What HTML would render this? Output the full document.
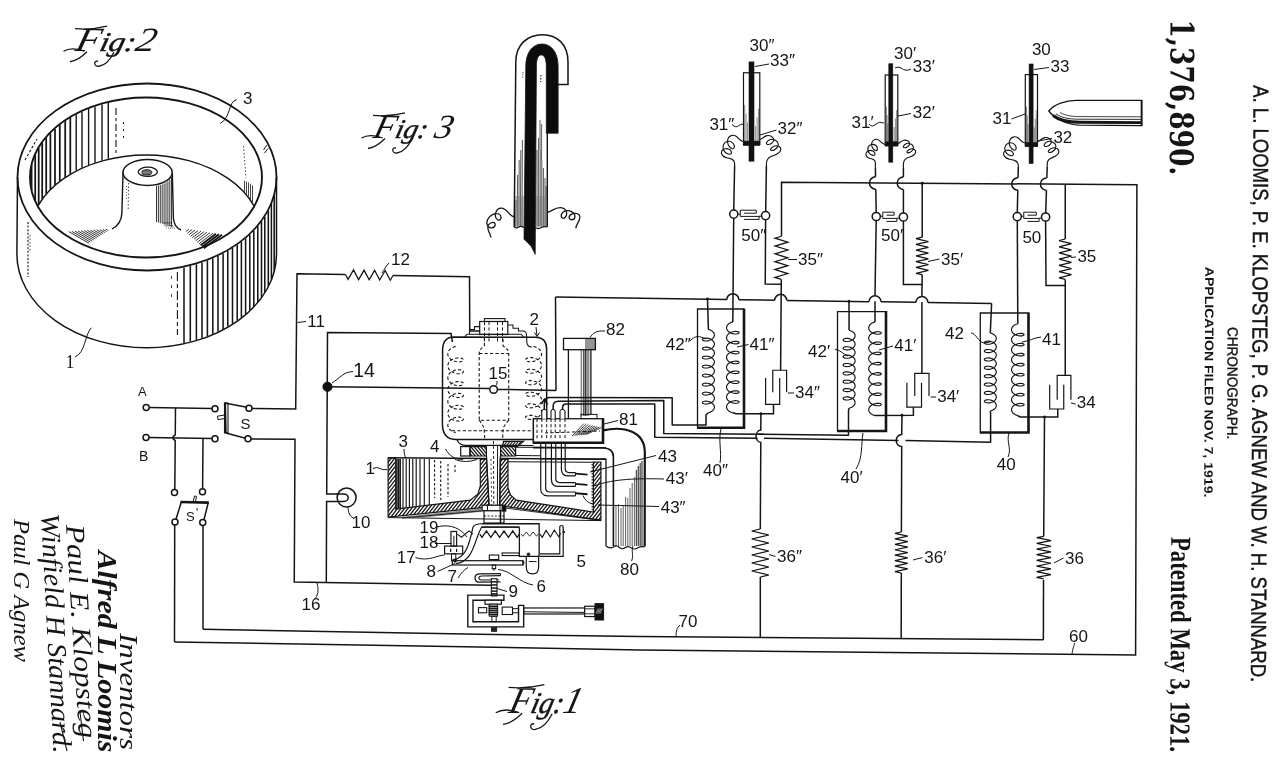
<!DOCTYPE html>
<html><head><meta charset="utf-8"><title>Patent 1,376,890 Chronograph</title>
<style>
html,body{margin:0;padding:0;background:#fff;}
body{width:1280px;height:774px;overflow:hidden;}
svg{display:block;will-change:transform;}
svg *{stroke:#151515;}
text{stroke:none;fill:#151515;}
tspan{stroke:#151515;stroke-width:0.5;}
.lb{font-family:"Liberation Sans",sans-serif;}
.sf{font-family:"Liberation Serif",serif;}
.dj{font-family:"DejaVu Serif","Liberation Serif",serif;}
</style></head><body>
<svg width="1280" height="774" viewBox="0 0 1280 774" fill="none" stroke-linecap="butt">
<rect x="0" y="0" width="1280" height="774" fill="#fff" stroke="none" style="stroke:none"/>
<line x1="149" y1="407.5" x2="212" y2="408.4" stroke-width="1.5" />
<line x1="149" y1="437.5" x2="212" y2="438.5" stroke-width="1.5" />
<line x1="175.5" y1="407.7" x2="175.26" y2="435.6" stroke-width="1.5" />
<path d="M175.24 435.6 A2.2 2.2 0 0 0 175.24 440" stroke-width="1.5" fill="none" />
<line x1="175.22" y1="440" x2="174.8" y2="489.5" stroke-width="1.5" />
<line x1="203" y1="438.3" x2="202.6" y2="488.7" stroke-width="1.5" />
<circle cx="146.2" cy="407.5" r="3" stroke-width="1.5" fill="#fff"/>
<circle cx="146" cy="437.5" r="3" stroke-width="1.5" fill="#fff"/>
<circle cx="215" cy="408.75" r="3" stroke-width="1.5" fill="#fff"/>
<circle cx="215" cy="438.75" r="3" stroke-width="1.5" fill="#fff"/>
<circle cx="174.5" cy="492.5" r="3" stroke-width="1.5" fill="#fff"/>
<circle cx="202.5" cy="491.75" r="3" stroke-width="1.5" fill="#fff"/>
<circle cx="175" cy="522" r="3" stroke-width="1.5" fill="#fff"/>
<circle cx="202.75" cy="522.5" r="3" stroke-width="1.5" fill="#fff"/>
<circle cx="249" cy="408.25" r="3" stroke-width="1.5" fill="#fff"/>
<circle cx="248" cy="438.75" r="3" stroke-width="1.5" fill="#fff"/>
<text class="lb" x="138" y="396" font-size="13" text-anchor="start" >A</text>
<text class="lb" x="139" y="461" font-size="14" text-anchor="start" >B</text>
<line x1="180.5" y1="502" x2="208.8" y2="502.6" stroke-width="2.6" />
<line x1="181.3" y1="502" x2="176" y2="519.3" stroke-width="1.5" />
<line x1="208.3" y1="502.5" x2="204" y2="519.6" stroke-width="1.5" />
<path d="M193.3 501 L194.5 496 L196.5 496.3 L195.6 501" stroke-width="1.0" fill="none" />
<text class="lb" x="186" y="521" font-size="13" text-anchor="start" >S</text>
<text class="lb" x="196" y="516.5" font-size="12" text-anchor="start" >'</text>
<line x1="174.7" y1="525" x2="174.5" y2="642" stroke-width="1.5" />
<line x1="203" y1="525.5" x2="203" y2="629.25" stroke-width="1.5" />
<rect x="224.5" y="403" width="3.5" height="30" stroke-width="1.1" fill="none" />
<line x1="225" y1="403" x2="225.6" y2="433" stroke-width="2.2" />
<line x1="224.5" y1="403" x2="247" y2="407.2" stroke-width="1.5" />
<line x1="226" y1="433" x2="245.5" y2="438.2" stroke-width="1.5" />
<path d="M224.5 415 L217.5 416.2 L218 419.6 L224.5 418.6" stroke-width="1.0" fill="none" />
<text class="lb" x="240.5" y="429" font-size="15" text-anchor="start" >S</text>
<path d="M252 408.5 L295.7 409 L297 273.75 L345.5 274.5" stroke-width="1.5" fill="none" />
<path d="M345.5 274.5 L348.04 279.35 L353.52 269.87 L358.59 279.58 L364.07 270.09 L369.15 279.8 L374.63 270.31 L379.7 280.02 L385.18 270.53 L390.26 280.24 L393 275.5" stroke-width="1.27" fill="none" stroke-linejoin="miter"/>
<path d="M393 275.5 L469.5 276.75 L469.75 331 L480 331" stroke-width="1.5" fill="none" />
<path d="M251 438.9 L295 439.3 L294.25 582 L491 585.2" stroke-width="1.5" fill="none" />
<path d="M326.3 582.6 L326.6 501.4 L344 501.4" stroke-width="1.5" fill="none" />
<path d="M344 493.9 L326.7 493.9 L327.5 332.5 L451 333.6 L452.5 342" stroke-width="1.5" fill="none" />
<circle cx="327.5" cy="386.75" r="4.6" stroke-width="1.0" fill="#111"/>
<line x1="327.5" y1="386.75" x2="489.8" y2="388.6" stroke-width="1.5" />
<line x1="497.3" y1="389.4" x2="556" y2="390.4" stroke-width="1.5" />
<line x1="556" y1="390.4" x2="555.5" y2="297" stroke-width="1.5" />
<line x1="555.5" y1="297" x2="726.8" y2="299.55" stroke-width="1.5" />
<path d="M726.8 299.64 A6 6 0 0 1 738.8 299.64" stroke-width="1.5" fill="none" />
<line x1="738.8" y1="299.73" x2="774.7" y2="300.27" stroke-width="1.5" />
<path d="M774.7 300.36 A6 6 0 0 1 786.7 300.36" stroke-width="1.5" fill="none" />
<line x1="786.7" y1="300.45" x2="869" y2="301.67" stroke-width="1.5" />
<path d="M869 301.76 A6 6 0 0 1 881 301.76" stroke-width="1.5" fill="none" />
<line x1="881" y1="301.85" x2="915.9" y2="302.37" stroke-width="1.5" />
<path d="M915.9 302.46 A6 6 0 0 1 927.9 302.46" stroke-width="1.5" fill="none" />
<line x1="927.9" y1="302.55" x2="991.6" y2="303.5" stroke-width="1.5" />
<line x1="991.6" y1="303.5" x2="990.3" y2="333" stroke-width="1.5" />
<circle cx="346.6" cy="497.6" r="9.5" stroke-width="1.5" fill="none"/>
<path d="M344 493.9 A4.2 3.75 0 1 1 344 501.4" stroke-width="1.5" fill="none" />
<path d="M781.5 236.25 L781.5 182.25 L1136.9 184.7 L1135.6 654.9 L640 650 L479 647 L174.5 642" stroke-width="1.5" fill="none" />
<path d="M203 629.25 L479 634.25 L640 636.6 L1043.4 639.8" stroke-width="1.5" fill="none" />
<rect x="743.5" y="72.75" width="16.3" height="71.85" stroke-width="1.2" fill="#fff" />
<line x1="744.7" y1="105.08" x2="744.7" y2="144.6" stroke-width="0.7" stroke-opacity="0.7"/>
<line x1="758.6" y1="108.67" x2="758.6" y2="144.6" stroke-width="0.7" stroke-opacity="0.7"/>
<line x1="746.07" y1="113.7" x2="746.07" y2="144.6" stroke-width="0.7" stroke-opacity="0.7"/>
<line x1="757.13" y1="117.3" x2="757.13" y2="144.6" stroke-width="0.7" stroke-opacity="0.7"/>
<line x1="747.43" y1="122.33" x2="747.43" y2="144.6" stroke-width="0.7" stroke-opacity="0.7"/>
<line x1="755.67" y1="125.92" x2="755.67" y2="144.6" stroke-width="0.7" stroke-opacity="0.7"/>
<rect x="743.5" y="141.1" width="16.3" height="4.3" stroke-width="0.6" fill="#111" />
<rect x="749" y="61.9" width="5" height="99.3" stroke-width="0.6" fill="#111" />
<path d="M743.5 141.5 C740.59 141.5 738.65 138.27 736.07 136.33 C732.84 134.07 728.96 135.68 727.67 139.56 C726.7 143.12 728.96 147.64 731.87 148.61 C734.45 149.25 735.1 146.35 733.48 143.76 C731.87 141.5 728.96 140.85 726.38 141.82 C723.14 143.12 722.18 146.99 723.79 150.22 C725.08 153.13 728.96 155.07 730.9 153.78 C732.51 152.49 730.9 150.22 728.96 149.25 C726.38 147.96 723.14 148.61 721.83 150.87 C720.51 153.45 722.42 156.69 726.27 157.66 C730.77 158.62 734.3 159.27 734.6 163.15 L734.6 166" stroke-width="1.15" fill="none" stroke-linejoin="round"/>
<path d="M759.8 139.5 C762.38 139.18 763.68 136.27 766.91 135.62 C770.14 134.98 773.69 136.92 773.69 139.82 C773.69 142.73 769.49 144.99 767.23 144.35 C765.29 143.7 766.91 140.79 770.14 139.5 C773.69 138.53 777.89 140.79 778.22 144.02 C778.54 147.25 774.66 150.49 771.75 150.49 C769.17 150.16 771.11 147.25 774.66 145.96 C778.54 144.99 781.12 147.25 780.78 149.84 C780.1 153.72 774.58 155.01 771.33 156.3 C767.42 157.92 766.43 160.18 766.4 164.06 L766.4 166" stroke-width="1.15" fill="none" stroke-linejoin="round"/>
<rect x="885.2" y="75" width="12.6" height="70.3" stroke-width="1.2" fill="#fff" />
<line x1="886.4" y1="106.64" x2="886.4" y2="145.3" stroke-width="0.7" stroke-opacity="0.7"/>
<line x1="896.6" y1="110.15" x2="896.6" y2="145.3" stroke-width="0.7" stroke-opacity="0.7"/>
<line x1="887.13" y1="115.07" x2="887.13" y2="145.3" stroke-width="0.7" stroke-opacity="0.7"/>
<line x1="895.4" y1="118.59" x2="895.4" y2="145.3" stroke-width="0.7" stroke-opacity="0.7"/>
<line x1="887.87" y1="123.51" x2="887.87" y2="145.3" stroke-width="0.7" stroke-opacity="0.7"/>
<line x1="894.2" y1="127.02" x2="894.2" y2="145.3" stroke-width="0.7" stroke-opacity="0.7"/>
<rect x="885.2" y="141.8" width="12.6" height="4.3" stroke-width="0.6" fill="#111" />
<rect x="888.8" y="63.75" width="4" height="98.45" stroke-width="0.6" fill="#111" />
<path d="M885.2 144.5 C882.73 144.5 881.08 141.75 878.88 140.11 C876.14 138.18 872.84 139.56 871.74 142.85 C870.92 145.87 872.84 149.72 875.31 150.54 C877.51 151.09 878.06 148.62 876.69 146.42 C875.31 144.5 872.84 143.95 870.64 144.77 C867.9 145.87 867.07 149.17 868.45 151.92 C869.55 154.39 872.84 156.03 874.49 154.94 C875.86 153.84 874.49 151.92 872.84 151.09 C870.64 149.99 867.9 150.54 866.46 152.46 C865.02 154.66 866.33 157.41 869.28 158.23 C872.79 159.06 875.47 159.61 875.4 162.9 L875.4 168" stroke-width="1.15" fill="none" stroke-linejoin="round"/>
<path d="M897.8 143.5 C900 143.23 901.1 140.75 903.84 140.2 C906.59 139.66 909.61 141.3 909.61 143.77 C909.61 146.25 906.04 148.17 904.12 147.62 C902.47 147.07 903.84 144.6 906.59 143.5 C909.61 142.68 913.18 144.6 913.45 147.34 C913.73 150.09 910.43 152.84 907.96 152.84 C905.76 152.56 907.41 150.09 910.43 148.99 C913.73 148.17 915.93 150.09 915.63 152.29 C915.05 155.58 910.36 156.68 907.59 157.78 C904.27 159.15 903.42 161.08 903.4 164.37 L903.4 168" stroke-width="1.15" fill="none" stroke-linejoin="round"/>
<rect x="1025.3" y="74.6" width="12.2" height="71.3" stroke-width="1.2" fill="#fff" />
<line x1="1026.5" y1="106.69" x2="1026.5" y2="145.9" stroke-width="0.7" stroke-opacity="0.7"/>
<line x1="1036.3" y1="110.25" x2="1036.3" y2="145.9" stroke-width="0.7" stroke-opacity="0.7"/>
<line x1="1027.3" y1="115.24" x2="1027.3" y2="145.9" stroke-width="0.7" stroke-opacity="0.7"/>
<line x1="1035.3" y1="118.81" x2="1035.3" y2="145.9" stroke-width="0.7" stroke-opacity="0.7"/>
<line x1="1028.1" y1="123.8" x2="1028.1" y2="145.9" stroke-width="0.7" stroke-opacity="0.7"/>
<line x1="1034.3" y1="127.36" x2="1034.3" y2="145.9" stroke-width="0.7" stroke-opacity="0.7"/>
<rect x="1025.3" y="142.4" width="12.2" height="4.3" stroke-width="0.6" fill="#111" />
<rect x="1029.1" y="64" width="4" height="99.5" stroke-width="0.6" fill="#111" />
<path d="M1025.3 143 C1022.39 143 1020.45 139.77 1017.87 137.83 C1014.64 135.57 1010.76 137.18 1009.47 141.06 C1008.5 144.62 1010.76 149.14 1013.67 150.11 C1016.25 150.75 1016.9 147.85 1015.28 145.26 C1013.67 143 1010.76 142.35 1008.18 143.32 C1004.94 144.62 1003.98 148.49 1005.59 151.72 C1006.88 154.63 1010.76 156.57 1012.7 155.28 C1014.31 153.99 1012.7 151.72 1010.76 150.75 C1008.18 149.46 1004.94 150.11 1003.9 152.37 C1002.85 154.95 1005.04 158.19 1009.16 159.16 C1013.93 160.12 1017.73 160.77 1018.3 164.65 L1018.3 167" stroke-width="1.15" fill="none" stroke-linejoin="round"/>
<path d="M1037.5 141.5 C1040.08 141.18 1041.38 138.27 1044.61 137.62 C1047.84 136.98 1051.39 138.92 1051.39 141.82 C1051.39 144.73 1047.19 146.99 1044.93 146.35 C1042.99 145.7 1044.61 142.79 1047.84 141.5 C1051.39 140.53 1055.59 142.79 1055.92 146.02 C1056.24 149.25 1052.36 152.49 1049.45 152.49 C1046.87 152.16 1048.81 149.25 1052.36 147.96 C1056.24 146.99 1058.82 149.25 1058.92 151.84 C1058.69 155.72 1053.61 157.01 1050.8 158.3 C1047.34 159.92 1046.78 162.18 1047.2 166.06 L1047.2 167" stroke-width="1.15" fill="none" stroke-linejoin="round"/>
<line x1="734.6" y1="166" x2="733.75" y2="210" stroke-width="1.5" />
<line x1="733.7" y1="218.2" x2="732.8" y2="321.9" stroke-width="1.5" />
<line x1="766.4" y1="166" x2="765.7" y2="211.5" stroke-width="1.5" />
<path d="M765.6 219.7 L765.25 284 L781 284.2" stroke-width="1.5" fill="none" />
<circle cx="733.75" cy="214.1" r="4.1" stroke-width="1.5" fill="#fff"/>
<circle cx="765.6" cy="215.6" r="4.1" stroke-width="1.5" fill="#fff"/>
<path d="M781.5 236.25 L775.09 238.18 L787.87 242.16 L775.05 246.03 L787.84 250.01 L775.02 253.87 L787.8 257.85 L774.98 261.72 L787.76 265.7 L774.95 269.56 L787.73 273.55 L774.91 277.41 L781.3 279.4" stroke-width="1.27" fill="none" stroke-linejoin="miter"/>
<line x1="781.3" y1="279.4" x2="780.6" y2="370.25" stroke-width="1.5" />
<line x1="875.4" y1="168" x2="875.56" y2="176.8" stroke-width="1.5" />
<path d="M875.67 176.8 A6.2 6.2 0 0 0 875.67 189.2" stroke-width="1.5" fill="none" />
<line x1="875.78" y1="189.2" x2="876.2" y2="212.4" stroke-width="1.5" />
<line x1="876.2" y1="220.6" x2="875" y2="295.5" stroke-width="1.5" />
<line x1="875" y1="301.3" x2="875" y2="321.9" stroke-width="1.5" />
<line x1="903.4" y1="168" x2="903.4" y2="177" stroke-width="1.5" />
<path d="M903.4 177 A6.2 6.2 0 0 0 903.4 189.4" stroke-width="1.5" fill="none" />
<line x1="903.4" y1="189.4" x2="903.4" y2="212.9" stroke-width="1.5" />
<path d="M903.4 221.1 L903.4 284.6 L922.2 284.6" stroke-width="1.5" fill="none" />
<circle cx="876.25" cy="216.5" r="4.1" stroke-width="1.5" fill="#fff"/>
<circle cx="903.4" cy="217" r="4.1" stroke-width="1.5" fill="#fff"/>
<line x1="922.2" y1="183.2" x2="922.2" y2="237.2" stroke-width="1.5" />
<circle cx="922.2" cy="183.3" r="1.3" stroke-width="0.5" fill="#111"/>
<path d="M922.2 237.2 L916 238.64 L928.4 241.53 L916 244.41 L928.4 247.3 L916 250.18 L928.4 253.07 L916 255.95 L928.4 258.83 L916 261.72 L928.4 264.6 L916 267.49 L928.4 270.37 L916 273.26 L922.2 274.7" stroke-width="1.27" fill="none" stroke-linejoin="miter"/>
<line x1="922.2" y1="274.7" x2="921.9" y2="296.3" stroke-width="1.5" />
<line x1="921.9" y1="301.9" x2="921.9" y2="373.4" stroke-width="1.5" />
<line x1="1018.3" y1="167" x2="1018.06" y2="177.8" stroke-width="1.5" />
<path d="M1017.93 177.8 A6.2 6.2 0 0 0 1017.93 190.2" stroke-width="1.5" fill="none" />
<line x1="1017.79" y1="190.2" x2="1017.3" y2="212.5" stroke-width="1.5" />
<line x1="1017.3" y1="220.7" x2="1017.8" y2="323.75" stroke-width="1.5" />
<line x1="1047.2" y1="167" x2="1046.84" y2="178" stroke-width="1.5" />
<path d="M1046.64 178 A6.2 6.2 0 0 0 1046.64 190.4" stroke-width="1.5" fill="none" />
<line x1="1046.44" y1="190.4" x2="1045.7" y2="212.9" stroke-width="1.5" />
<path d="M1045.6 221.1 L1046 285.4 L1065.25 285.4" stroke-width="1.5" fill="none" />
<circle cx="1017.25" cy="216.6" r="4.1" stroke-width="1.5" fill="#fff"/>
<circle cx="1045.6" cy="217" r="4.1" stroke-width="1.5" fill="#fff"/>
<line x1="1065.25" y1="184.3" x2="1065.25" y2="239" stroke-width="1.5" />
<path d="M1065.25 239 L1059.05 240.55 L1071.45 243.66 L1059.05 246.77 L1071.45 249.88 L1059.05 252.98 L1071.45 256.09 L1059.05 259.2 L1071.45 262.31 L1059.05 265.42 L1071.45 268.52 L1059.05 271.63 L1071.45 274.74 L1059.05 277.85 L1065.25 279.4" stroke-width="1.27" fill="none" stroke-linejoin="miter"/>
<line x1="1065.25" y1="279.4" x2="1065.25" y2="375.3" stroke-width="1.5" />
<path d="M738.05 214.2 L740.25 214.2 L740.25 210.2 L756.3 210.2 L756.3 213.2 L744.05 213.2" stroke-width="1.0" fill="none" />
<path d="M740.25 214.2 L740.25 216.4 L759.1 216.4" stroke-width="1.0" fill="none" />
<path d="M761.3 216.2 L759.1 216.2 L759.1 219.4 L744.05 219.4" stroke-width="1.0" fill="none" />
<path d="M880.55 216.2 L882.75 216.2 L882.75 212.2 L894.1 212.2 L894.1 215.2 L886.55 215.2" stroke-width="1.0" fill="none" />
<path d="M882.75 216.2 L882.75 218.4 L896.9 218.4" stroke-width="1.0" fill="none" />
<path d="M899.1 218.2 L896.9 218.2 L896.9 221.4 L886.55 221.4" stroke-width="1.0" fill="none" />
<path d="M1021.55 216.2 L1023.75 216.2 L1023.75 212.2 L1036.3 212.2 L1036.3 215.2 L1027.55 215.2" stroke-width="1.0" fill="none" />
<path d="M1023.75 216.2 L1023.75 218.4 L1039.1 218.4" stroke-width="1.0" fill="none" />
<path d="M1041.3 218.2 L1039.1 218.2 L1039.1 221.4 L1027.55 221.4" stroke-width="1.0" fill="none" />
<path d="M744 309 L697.5 309 L697.5 427.8" stroke-width="1.3" fill="none" />
<path d="M744 308.5 L744 427.8 L697 427.8" stroke-width="2.6" fill="none" />
<path d="M708.4 329.4 L709.74 329.81 L711 330.38 L712.14 331.11 L713.09 331.97 L713.81 332.93 L714.25 333.97 L714.4 335.05 L714.25 336.13 L713.81 337.17 L713.09 338.14 L712.14 339 L711 339.73 L709.74 340.3 L708.4 340.71 L707.06 340.94 L705.8 341.01 L704.66 340.93 L703.71 340.71 L702.99 340.39 L702.55 339.99 L702.4 339.56 L702.55 339.12 L702.99 338.73 L703.71 338.4 L704.66 338.19 L705.8 338.1 L707.06 338.18 L708.4 338.41 L709.74 338.82 L711 339.39 L712.14 340.12 L713.09 340.98 L713.81 341.95 L714.25 342.99 L714.4 344.06 L714.25 345.14 L713.81 346.18 L713.09 347.15 L712.14 348.01 L711 348.74 L709.74 349.31 L708.4 349.72 L707.06 349.95 L705.8 350.02 L704.66 349.94 L703.71 349.72 L702.99 349.4 L702.55 349.01 L702.4 348.57 L702.55 348.14 L702.99 347.74 L703.71 347.42 L704.66 347.2 L705.8 347.12 L707.06 347.19 L708.4 347.42 L709.74 347.83 L711 348.4 L712.14 349.13 L713.09 349.99 L713.81 350.96 L714.25 352 L714.4 353.08 L714.25 354.15 L713.81 355.2 L713.09 356.16 L712.14 357.02 L711 357.75 L709.74 358.32 L708.4 358.73 L707.06 358.97 L705.8 359.04 L704.66 358.95 L703.71 358.74 L702.99 358.41 L702.55 358.02 L702.4 357.58 L702.55 357.15 L702.99 356.75 L703.71 356.43 L704.66 356.21 L705.8 356.13 L707.06 356.2 L708.4 356.44 L709.74 356.84 L711 357.42 L712.14 358.14 L713.09 359 L713.81 359.97 L714.25 361.01 L714.4 362.09 L714.25 363.17 L713.81 364.21 L713.09 365.17 L712.14 366.03 L711 366.76 L709.74 367.33 L708.4 367.74 L707.06 367.98 L705.8 368.05 L704.66 367.96 L703.71 367.75 L702.99 367.43 L702.55 367.03 L702.4 366.59 L702.55 366.16 L702.99 365.76 L703.71 365.44 L704.66 365.22 L705.8 365.14 L707.06 365.21 L708.4 365.45 L709.74 365.85 L711 366.43 L712.14 367.15 L713.09 368.01 L713.81 368.98 L714.25 370.02 L714.4 371.1 L714.25 372.18 L713.81 373.22 L713.09 374.19 L712.14 375.05 L711 375.77 L709.74 376.35 L708.4 376.75 L707.06 376.99 L705.8 377.06 L704.66 376.98 L703.71 376.76 L702.99 376.44 L702.55 376.04 L702.4 375.61 L702.55 375.17 L702.99 374.77 L703.71 374.45 L704.66 374.24 L705.8 374.15 L707.06 374.22 L708.4 374.46 L709.74 374.87 L711 375.44 L712.14 376.17 L713.09 377.03 L713.81 377.99 L714.25 379.03 L714.4 380.11 L714.25 381.19 L713.81 382.23 L713.09 383.2 L712.14 384.06 L711 384.78 L709.74 385.36 L708.4 385.76 L707.06 386 L705.8 386.07 L704.66 385.99 L703.71 385.77 L702.99 385.45 L702.55 385.05 L702.4 384.62 L702.55 384.18 L702.99 383.79 L703.71 383.46 L704.66 383.25 L705.8 383.16 L707.06 383.23 L708.4 383.47 L709.74 383.88 L711 384.45 L712.14 385.18 L713.09 386.04 L713.81 387 L714.25 388.05 L714.4 389.12 L714.25 390.2 L713.81 391.24 L713.09 392.21 L712.14 393.07 L711 393.8 L709.74 394.37 L708.4 394.78 L707.06 395.01 L705.8 395.08 L704.66 395 L703.71 394.78 L702.99 394.46 L702.55 394.06 L702.4 393.63 L702.55 393.19 L702.99 392.8 L703.71 392.48 L704.66 392.26 L705.8 392.18 L707.06 392.25 L708.4 392.48 L709.74 392.89 L711 393.46 L712.14 394.19 L713.09 395.05 L713.81 396.02 L714.25 397.06 L714.4 398.14 L714.25 399.21 L713.81 400.25 L713.09 401.22 L712.14 402.08 L711 402.81 L709.74 403.38 L708.4 403.79 L707.06 404.02 L705.8 404.1 L704.66 404.01 L703.71 403.8 L702.99 403.47 L702.55 403.08 L702.4 402.64 L702.55 402.21 L702.99 401.81 L703.71 401.49 L704.66 401.27 L705.8 401.19 L707.06 401.26 L708.4 401.49 L709.74 401.9 L711 402.47 L712.14 403.2 L713.09 404.06 L713.81 405.03 L714.25 406.07 L714.4 407.15 L714.25 408.23 L713.81 409.27 L713.09 410.23 L712.14 411.09 L711 411.82 L709.74 412.39 L708.4 412.8" stroke-width="1.15" fill="none" stroke-linejoin="round"/>
<path d="M732.8 321.9 L731.4 322.34 L730.07 322.94 L728.87 323.7 L727.87 324.59 L727.12 325.59 L726.66 326.66 L726.5 327.77 L726.66 328.88 L727.12 329.96 L727.87 330.95 L728.87 331.85 L730.07 332.6 L731.4 333.21 L732.8 333.65 L734.2 333.92 L735.53 334.02 L736.73 333.97 L737.73 333.78 L738.48 333.49 L738.94 333.12 L739.1 332.72 L738.94 332.32 L738.48 331.95 L737.73 331.66 L736.73 331.48 L735.53 331.42 L734.2 331.53 L732.8 331.79 L731.4 332.23 L730.07 332.84 L728.87 333.6 L727.87 334.49 L727.12 335.49 L726.66 336.56 L726.5 337.67 L726.66 338.78 L727.12 339.85 L727.87 340.85 L728.87 341.74 L730.07 342.5 L731.4 343.1 L732.8 343.54 L734.2 343.81 L735.53 343.91 L736.73 343.86 L737.73 343.67 L738.48 343.38 L738.94 343.02 L739.1 342.61 L738.94 342.21 L738.48 341.85 L737.73 341.55 L736.73 341.37 L735.53 341.32 L734.2 341.42 L732.8 341.69 L731.4 342.13 L730.07 342.73 L728.87 343.49 L727.87 344.38 L727.12 345.38 L726.66 346.45 L726.5 347.56 L726.66 348.67 L727.12 349.74 L727.87 350.74 L728.87 351.63 L730.07 352.39 L731.4 353 L732.8 353.44 L734.2 353.7 L735.53 353.81 L736.73 353.75 L737.73 353.57 L738.48 353.28 L738.94 352.91 L739.1 352.51 L738.94 352.11 L738.48 351.74 L737.73 351.45 L736.73 351.26 L735.53 351.21 L734.2 351.31 L732.8 351.58 L731.4 352.02 L730.07 352.63 L728.87 353.38 L727.87 354.28 L727.12 355.27 L726.66 356.35 L726.5 357.46 L726.66 358.57 L727.12 359.64 L727.87 360.64 L728.87 361.53 L730.07 362.29 L731.4 362.89 L732.8 363.33 L734.2 363.6 L735.53 363.7 L736.73 363.65 L737.73 363.46 L738.48 363.17 L738.94 362.81 L739.1 362.4 L738.94 362 L738.48 361.63 L737.73 361.34 L736.73 361.16 L735.53 361.11 L734.2 361.21 L732.8 361.48 L731.4 361.92 L730.07 362.52 L728.87 363.28 L727.87 364.17 L727.12 365.17 L726.66 366.24 L726.5 367.35 L726.66 368.46 L727.12 369.53 L727.87 370.53 L728.87 371.42 L730.07 372.18 L731.4 372.78 L732.8 373.22 L734.2 373.49 L735.53 373.59 L736.73 373.54 L737.73 373.36 L738.48 373.07 L738.94 372.7 L739.1 372.3 L738.94 371.89 L738.48 371.53 L737.73 371.24 L736.73 371.05 L735.53 371 L734.2 371.1 L732.8 371.37 L731.4 371.81 L730.07 372.41 L728.87 373.17 L727.87 374.06 L727.12 375.06 L726.66 376.13 L726.5 377.24 L726.66 378.35 L727.12 379.43 L727.87 380.42 L728.87 381.32 L730.07 382.07 L731.4 382.68 L732.8 383.12 L734.2 383.39 L735.53 383.49 L736.73 383.44 L737.73 383.25 L738.48 382.96 L738.94 382.59 L739.1 382.19 L738.94 381.79 L738.48 381.42 L737.73 381.13 L736.73 380.95 L735.53 380.89 L734.2 381 L732.8 381.26 L731.4 381.7 L730.07 382.31 L728.87 383.07 L727.87 383.96 L727.12 384.96 L726.66 386.03 L726.5 387.14 L726.66 388.25 L727.12 389.32 L727.87 390.32 L728.87 391.21 L730.07 391.97 L731.4 392.57 L732.8 393.01 L734.2 393.28 L735.53 393.38 L736.73 393.33 L737.73 393.15 L738.48 392.85 L738.94 392.49 L739.1 392.09 L738.94 391.68 L738.48 391.32 L737.73 391.03 L736.73 390.84 L735.53 390.79 L734.2 390.89 L732.8 391.16 L731.4 391.6 L730.07 392.2 L728.87 392.96 L727.87 393.85 L727.12 394.85 L726.66 395.92 L726.5 397.03 L726.66 398.14 L727.12 399.21 L727.87 400.21 L728.87 401.1 L730.07 401.86 L731.4 402.47 L732.8 402.91 L734.2 403.17 L735.53 403.28 L736.73 403.22 L737.73 403.04 L738.48 402.75 L738.94 402.38 L739.1 401.98 L738.94 401.58 L738.48 401.21 L737.73 400.92 L736.73 400.73 L735.53 400.68 L734.2 400.78 L732.8 401.05 L731.4 401.49 L730.07 402.1 L728.87 402.85 L727.87 403.75 L727.12 404.74 L726.66 405.82 L726.5 406.93 L726.66 408.04 L727.12 409.11 L727.87 410.11 L728.87 411 L730.07 411.76 L731.4 412.36 L732.8 412.8" stroke-width="1.15" fill="none" stroke-linejoin="round"/>
<line x1="707.5" y1="298.9" x2="708.4" y2="329.4" stroke-width="1.5" />
<circle cx="707.5" cy="299" r="1.2" stroke-width="0.5" fill="#111"/>
<path d="M765.6 378 L765.6 404.4 L779.7 404.4 L779.7 378" stroke-width="1.2" fill="none" />
<path d="M772.75 392.2 L772.75 370.25 L786.6 370.25 L786.6 392.2" stroke-width="1.2" fill="none" />
<path d="M732.8 412.8 L736 413.75 L773.5 413.75 L773.5 404.4" stroke-width="1.5" fill="none" />
<path d="M886 311.6 L837.5 311.6 L837.5 431" stroke-width="1.3" fill="none" />
<path d="M886 311.1 L886 431 L837 431" stroke-width="2.6" fill="none" />
<path d="M849.1 330.3 L850.44 330.68 L851.7 331.23 L852.84 331.94 L853.79 332.77 L854.51 333.72 L854.95 334.73 L855.1 335.79 L854.95 336.84 L854.51 337.86 L853.79 338.8 L852.84 339.64 L851.7 340.34 L850.44 340.89 L849.1 341.28 L847.76 341.49 L846.5 341.54 L845.36 341.43 L844.41 341.19 L843.69 340.84 L843.25 340.42 L843.1 339.96 L843.25 339.51 L843.69 339.09 L844.41 338.74 L845.36 338.5 L846.5 338.39 L847.76 338.44 L849.1 338.65 L850.44 339.04 L851.7 339.59 L852.84 340.29 L853.79 341.13 L854.51 342.07 L854.95 343.09 L855.1 344.14 L854.95 345.2 L854.51 346.21 L853.79 347.16 L852.84 347.99 L851.7 348.7 L850.44 349.25 L849.1 349.63 L847.76 349.84 L846.5 349.89 L845.36 349.78 L844.41 349.54 L843.69 349.2 L843.25 348.78 L843.1 348.32 L843.25 347.86 L843.69 347.44 L844.41 347.09 L845.36 346.85 L846.5 346.75 L847.76 346.79 L849.1 347.01 L850.44 347.39 L851.7 347.94 L852.84 348.64 L853.79 349.48 L854.51 350.42 L854.95 351.44 L855.1 352.49 L854.95 353.55 L854.51 354.57 L853.79 355.51 L852.84 356.35 L851.7 357.05 L850.44 357.6 L849.1 357.98 L847.76 358.2 L846.5 358.24 L845.36 358.14 L844.41 357.9 L843.69 357.55 L843.25 357.13 L843.1 356.67 L843.25 356.21 L843.69 355.79 L844.41 355.45 L845.36 355.21 L846.5 355.1 L847.76 355.15 L849.1 355.36 L850.44 355.74 L851.7 356.29 L852.84 357 L853.79 357.83 L854.51 358.78 L854.95 359.79 L855.1 360.85 L854.95 361.9 L854.51 362.92 L853.79 363.86 L852.84 364.7 L851.7 365.4 L850.44 365.95 L849.1 366.34 L847.76 366.55 L846.5 366.6 L845.36 366.49 L844.41 366.25 L843.69 365.9 L843.25 365.48 L843.1 365.02 L843.25 364.57 L843.69 364.14 L844.41 363.8 L845.36 363.56 L846.5 363.45 L847.76 363.5 L849.1 363.71 L850.44 364.1 L851.7 364.65 L852.84 365.35 L853.79 366.19 L854.51 367.13 L854.95 368.15 L855.1 369.2 L854.95 370.25 L854.51 371.27 L853.79 372.21 L852.84 373.05 L851.7 373.75 L850.44 374.3 L849.1 374.69 L847.76 374.9 L846.5 374.95 L845.36 374.84 L844.41 374.6 L843.69 374.26 L843.25 373.83 L843.1 373.38 L843.25 372.92 L843.69 372.5 L844.41 372.15 L845.36 371.91 L846.5 371.8 L847.76 371.85 L849.1 372.06 L850.44 372.45 L851.7 373 L852.84 373.7 L853.79 374.54 L854.51 375.48 L854.95 376.5 L855.1 377.55 L854.95 378.61 L854.51 379.62 L853.79 380.57 L852.84 381.4 L851.7 382.11 L850.44 382.66 L849.1 383.04 L847.76 383.25 L846.5 383.3 L845.36 383.19 L844.41 382.95 L843.69 382.61 L843.25 382.19 L843.1 381.73 L843.25 381.27 L843.69 380.85 L844.41 380.5 L845.36 380.26 L846.5 380.16 L847.76 380.2 L849.1 380.42 L850.44 380.8 L851.7 381.35 L852.84 382.05 L853.79 382.89 L854.51 383.83 L854.95 384.85 L855.1 385.91 L854.95 386.96 L854.51 387.98 L853.79 388.92 L852.84 389.76 L851.7 390.46 L850.44 391.01 L849.1 391.39 L847.76 391.61 L846.5 391.65 L845.36 391.55 L844.41 391.31 L843.69 390.96 L843.25 390.54 L843.1 390.08 L843.25 389.62 L843.69 389.2 L844.41 388.86 L845.36 388.62 L846.5 388.51 L847.76 388.56 L849.1 388.77 L850.44 389.15 L851.7 389.7 L852.84 390.41 L853.79 391.24 L854.51 392.19 L854.95 393.2 L855.1 394.26 L854.95 395.31 L854.51 396.33 L853.79 397.27 L852.84 398.11 L851.7 398.81 L850.44 399.36 L849.1 399.75 L847.76 399.96 L846.5 400.01 L845.36 399.9 L844.41 399.66 L843.69 399.31 L843.25 398.89 L843.1 398.44 L843.25 397.98 L843.69 397.56 L844.41 397.21 L845.36 396.97 L846.5 396.86 L847.76 396.91 L849.1 397.12 L850.44 397.51 L851.7 398.06 L852.84 398.76 L853.79 399.6 L854.51 400.54 L854.95 401.56 L855.1 402.61 L854.95 403.67 L854.51 404.68 L853.79 405.63 L852.84 406.46 L851.7 407.17 L850.44 407.72 L849.1 408.1" stroke-width="1.15" fill="none" stroke-linejoin="round"/>
<path d="M875 321.9 L873.6 322.35 L872.27 322.97 L871.07 323.74 L870.07 324.64 L869.32 325.65 L868.86 326.73 L868.7 327.86 L868.86 328.98 L869.32 330.06 L870.07 331.07 L871.07 331.97 L872.27 332.74 L873.6 333.36 L875 333.81 L876.4 334.09 L877.73 334.21 L878.93 334.17 L879.93 333.99 L880.68 333.71 L881.14 333.36 L881.3 332.97 L881.14 332.58 L880.68 332.22 L879.93 331.94 L878.93 331.77 L877.73 331.73 L876.4 331.84 L875 332.12 L873.6 332.57 L872.27 333.19 L871.07 333.96 L870.07 334.86 L869.32 335.87 L868.86 336.96 L868.7 338.08 L868.86 339.2 L869.32 340.28 L870.07 341.29 L871.07 342.2 L872.27 342.97 L873.6 343.58 L875 344.04 L876.4 344.32 L877.73 344.43 L878.93 344.39 L879.93 344.22 L880.68 343.94 L881.14 343.58 L881.3 343.19 L881.14 342.8 L880.68 342.45 L879.93 342.17 L878.93 341.99 L877.73 341.95 L876.4 342.07 L875 342.35 L873.6 342.8 L872.27 343.41 L871.07 344.18 L870.07 345.09 L869.32 346.1 L868.86 347.18 L868.7 348.3 L868.86 349.42 L869.32 350.51 L870.07 351.52 L871.07 352.42 L872.27 353.19 L873.6 353.81 L875 354.26 L876.4 354.54 L877.73 354.65 L878.93 354.61 L879.93 354.44 L880.68 354.16 L881.14 353.81 L881.3 353.41 L881.14 353.02 L880.68 352.67 L879.93 352.39 L878.93 352.22 L877.73 352.18 L876.4 352.29 L875 352.57 L873.6 353.02 L872.27 353.64 L871.07 354.41 L870.07 355.31 L869.32 356.32 L868.86 357.4 L868.7 358.53 L868.86 359.65 L869.32 360.73 L870.07 361.74 L871.07 362.65 L872.27 363.42 L873.6 364.03 L875 364.48 L876.4 364.76 L877.73 364.88 L878.93 364.84 L879.93 364.66 L880.68 364.38 L881.14 364.03 L881.3 363.64 L881.14 363.25 L880.68 362.89 L879.93 362.61 L878.93 362.44 L877.73 362.4 L876.4 362.51 L875 362.79 L873.6 363.24 L872.27 363.86 L871.07 364.63 L870.07 365.53 L869.32 366.54 L868.86 367.63 L868.7 368.75 L868.86 369.87 L869.32 370.96 L870.07 371.97 L871.07 372.87 L872.27 373.64 L873.6 374.26 L875 374.71 L876.4 374.99 L877.73 375.1 L878.93 375.06 L879.93 374.89 L880.68 374.61 L881.14 374.25 L881.3 373.86 L881.14 373.47 L880.68 373.12 L879.93 372.84 L878.93 372.66 L877.73 372.62 L876.4 372.74 L875 373.02 L873.6 373.47 L872.27 374.08 L871.07 374.85 L870.07 375.76 L869.32 376.77 L868.86 377.85 L868.7 378.97 L868.86 380.1 L869.32 381.18 L870.07 382.19 L871.07 383.09 L872.27 383.86 L873.6 384.48 L875 384.93 L876.4 385.21 L877.73 385.32 L878.93 385.28 L879.93 385.11 L880.68 384.83 L881.14 384.48 L881.3 384.09 L881.14 383.69 L880.68 383.34 L879.93 383.06 L878.93 382.89 L877.73 382.85 L876.4 382.96 L875 383.24 L873.6 383.69 L872.27 384.31 L871.07 385.08 L870.07 385.98 L869.32 386.99 L868.86 388.08 L868.7 389.2 L868.86 390.32 L869.32 391.4 L870.07 392.41 L871.07 393.32 L872.27 394.09 L873.6 394.7 L875 395.15 L876.4 395.43 L877.73 395.55 L878.93 395.51 L879.93 395.33 L880.68 395.05 L881.14 394.7 L881.3 394.31 L881.14 393.92 L880.68 393.56 L879.93 393.28 L878.93 393.11 L877.73 393.07 L876.4 393.18 L875 393.46 L873.6 393.92 L872.27 394.53 L871.07 395.3 L870.07 396.21 L869.32 397.22 L868.86 398.3 L868.7 399.42 L868.86 400.54 L869.32 401.63 L870.07 402.64 L871.07 403.54 L872.27 404.31 L873.6 404.93 L875 405.38 L876.4 405.66 L877.73 405.77 L878.93 405.73 L879.93 405.56 L880.68 405.28 L881.14 404.92 L881.3 404.53 L881.14 404.14 L880.68 403.79 L879.93 403.51 L878.93 403.33 L877.73 403.29 L876.4 403.41 L875 403.69 L873.6 404.14 L872.27 404.76 L871.07 405.53 L870.07 406.43 L869.32 407.44 L868.86 408.52 L868.7 409.64 L868.86 410.77 L869.32 411.85 L870.07 412.86 L871.07 413.76 L872.27 414.53 L873.6 415.15 L875 415.6" stroke-width="1.15" fill="none" stroke-linejoin="round"/>
<line x1="849" y1="301.3" x2="849.1" y2="330.3" stroke-width="1.5" />
<circle cx="849" cy="301.3" r="1.2" stroke-width="0.5" fill="#111"/>
<path d="M906.9 382.8 L906.9 407.2 L921.5 407.2 L921.5 382.8" stroke-width="1.2" fill="none" />
<path d="M914.75 396 L914.75 373.4 L929 373.4 L929 396" stroke-width="1.2" fill="none" />
<path d="M875 415.6 L913.4 415.25 L913.4 407.2" stroke-width="1.5" fill="none" />
<path d="M1028.5 313 L980.3 313 L980.3 432.5" stroke-width="1.3" fill="none" />
<path d="M1028.5 312.5 L1028.5 432.5 L979.8 432.5" stroke-width="2.6" fill="none" />
<path d="M990.3 333 L991.64 333.38 L992.9 333.94 L994.04 334.64 L994.99 335.48 L995.71 336.42 L996.15 337.44 L996.3 338.49 L996.15 339.55 L995.71 340.57 L994.99 341.51 L994.04 342.35 L992.9 343.05 L991.64 343.6 L990.3 343.99 L988.96 344.2 L987.7 344.25 L986.56 344.14 L985.61 343.9 L984.89 343.56 L984.45 343.14 L984.3 342.68 L984.45 342.22 L984.89 341.81 L985.61 341.46 L986.56 341.22 L987.7 341.11 L988.96 341.16 L990.3 341.38 L991.64 341.76 L992.9 342.31 L994.04 343.02 L994.99 343.85 L995.71 344.8 L996.15 345.81 L996.3 346.87 L996.15 347.93 L995.71 348.94 L994.99 349.89 L994.04 350.73 L992.9 351.43 L991.64 351.98 L990.3 352.36 L988.96 352.58 L987.7 352.63 L986.56 352.52 L985.61 352.28 L984.89 351.94 L984.45 351.52 L984.3 351.06 L984.45 350.6 L984.89 350.18 L985.61 349.84 L986.56 349.6 L987.7 349.49 L988.96 349.54 L990.3 349.75 L991.64 350.14 L992.9 350.69 L994.04 351.39 L994.99 352.23 L995.71 353.17 L996.15 354.19 L996.3 355.25 L996.15 356.3 L995.71 357.32 L994.99 358.26 L994.04 359.1 L992.9 359.81 L991.64 360.36 L990.3 360.74 L988.96 360.96 L987.7 361 L986.56 360.9 L985.61 360.66 L984.89 360.31 L984.45 359.89 L984.3 359.44 L984.45 358.98 L984.89 358.56 L985.61 358.21 L986.56 357.97 L987.7 357.87 L988.96 357.92 L990.3 358.13 L991.64 358.51 L992.9 359.06 L994.04 359.77 L994.99 360.61 L995.71 361.55 L996.15 362.57 L996.3 363.62 L996.15 364.68 L995.71 365.7 L994.99 366.64 L994.04 367.48 L992.9 368.18 L991.64 368.73 L990.3 369.12 L988.96 369.33 L987.7 369.38 L986.56 369.27 L985.61 369.03 L984.89 368.69 L984.45 368.27 L984.3 367.81 L984.45 367.35 L984.89 366.93 L985.61 366.59 L986.56 366.35 L987.7 366.24 L988.96 366.29 L990.3 366.51 L991.64 366.89 L992.9 367.44 L994.04 368.15 L994.99 368.98 L995.71 369.93 L996.15 370.94 L996.3 372 L996.15 373.06 L995.71 374.07 L994.99 375.02 L994.04 375.85 L992.9 376.56 L991.64 377.11 L990.3 377.49 L988.96 377.71 L987.7 377.76 L986.56 377.65 L985.61 377.41 L984.89 377.07 L984.45 376.65 L984.3 376.19 L984.45 375.73 L984.89 375.31 L985.61 374.97 L986.56 374.73 L987.7 374.62 L988.96 374.67 L990.3 374.88 L991.64 375.27 L992.9 375.82 L994.04 376.52 L994.99 377.36 L995.71 378.3 L996.15 379.32 L996.3 380.38 L996.15 381.43 L995.71 382.45 L994.99 383.39 L994.04 384.23 L992.9 384.94 L991.64 385.49 L990.3 385.87 L988.96 386.08 L987.7 386.13 L986.56 386.03 L985.61 385.79 L984.89 385.44 L984.45 385.02 L984.3 384.56 L984.45 384.11 L984.89 383.69 L985.61 383.34 L986.56 383.1 L987.7 383 L988.96 383.04 L990.3 383.26 L991.64 383.64 L992.9 384.19 L994.04 384.9 L994.99 385.74 L995.71 386.68 L996.15 387.7 L996.3 388.75 L996.15 389.81 L995.71 390.83 L994.99 391.77 L994.04 392.61 L992.9 393.31 L991.64 393.86 L990.3 394.25 L988.96 394.46 L987.7 394.51 L986.56 394.4 L985.61 394.16 L984.89 393.82 L984.45 393.4 L984.3 392.94 L984.45 392.48 L984.89 392.06 L985.61 391.72 L986.56 391.48 L987.7 391.37 L988.96 391.42 L990.3 391.64 L991.64 392.02 L992.9 392.57 L994.04 393.27 L994.99 394.11 L995.71 395.06 L996.15 396.07 L996.3 397.13 L996.15 398.19 L995.71 399.2 L994.99 400.15 L994.04 400.98 L992.9 401.69 L991.64 402.24 L990.3 402.62 L988.96 402.84 L987.7 402.89 L986.56 402.78 L985.61 402.54 L984.89 402.19 L984.45 401.78 L984.3 401.32 L984.45 400.86 L984.89 400.44 L985.61 400.1 L986.56 399.86 L987.7 399.75 L988.96 399.8 L990.3 400.01 L991.64 400.4 L992.9 400.95 L994.04 401.65 L994.99 402.49 L995.71 403.43 L996.15 404.45 L996.3 405.51 L996.15 406.56 L995.71 407.58 L994.99 408.52 L994.04 409.36 L992.9 410.06 L991.64 410.62 L990.3 411" stroke-width="1.15" fill="none" stroke-linejoin="round"/>
<path d="M1017.8 323.75 L1016.4 324.19 L1015.07 324.8 L1013.87 325.56 L1012.87 326.46 L1012.12 327.46 L1011.66 328.54 L1011.5 329.65 L1011.66 330.77 L1012.12 331.84 L1012.87 332.84 L1013.87 333.74 L1015.07 334.5 L1016.4 335.11 L1017.8 335.55 L1019.2 335.83 L1020.53 335.93 L1021.73 335.88 L1022.73 335.7 L1023.48 335.41 L1023.94 335.05 L1024.1 334.65 L1023.94 334.26 L1023.48 333.89 L1022.73 333.61 L1021.73 333.43 L1020.53 333.38 L1019.2 333.48 L1017.8 333.76 L1016.4 334.2 L1015.07 334.81 L1013.87 335.57 L1012.87 336.47 L1012.12 337.47 L1011.66 338.54 L1011.5 339.66 L1011.66 340.77 L1012.12 341.85 L1012.87 342.85 L1013.87 343.74 L1015.07 344.51 L1016.4 345.12 L1017.8 345.56 L1019.2 345.83 L1020.53 345.94 L1021.73 345.89 L1022.73 345.71 L1023.48 345.42 L1023.94 345.06 L1024.1 344.66 L1023.94 344.26 L1023.48 343.9 L1022.73 343.61 L1021.73 343.43 L1020.53 343.38 L1019.2 343.49 L1017.8 343.76 L1016.4 344.2 L1015.07 344.81 L1013.87 345.58 L1012.87 346.47 L1012.12 347.47 L1011.66 348.55 L1011.5 349.66 L1011.66 350.78 L1012.12 351.85 L1012.87 352.86 L1013.87 353.75 L1015.07 354.51 L1016.4 355.12 L1017.8 355.56 L1019.2 355.84 L1020.53 355.94 L1021.73 355.89 L1022.73 355.71 L1023.48 355.43 L1023.94 355.07 L1024.1 354.67 L1023.94 354.27 L1023.48 353.91 L1022.73 353.62 L1021.73 353.44 L1020.53 353.39 L1019.2 353.5 L1017.8 353.77 L1016.4 354.21 L1015.07 354.82 L1013.87 355.58 L1012.87 356.48 L1012.12 357.48 L1011.66 358.56 L1011.5 359.67 L1011.66 360.78 L1012.12 361.86 L1012.87 362.86 L1013.87 363.76 L1015.07 364.52 L1016.4 365.13 L1017.8 365.57 L1019.2 365.84 L1020.53 365.95 L1021.73 365.9 L1022.73 365.72 L1023.48 365.43 L1023.94 365.07 L1024.1 364.67 L1023.94 364.27 L1023.48 363.91 L1022.73 363.62 L1021.73 363.44 L1020.53 363.4 L1019.2 363.5 L1017.8 363.77 L1016.4 364.22 L1015.07 364.82 L1013.87 365.59 L1012.87 366.48 L1012.12 367.49 L1011.66 368.56 L1011.5 369.68 L1011.66 370.79 L1012.12 371.86 L1012.87 372.87 L1013.87 373.76 L1015.07 374.53 L1016.4 375.13 L1017.8 375.58 L1019.2 375.85 L1020.53 375.95 L1021.73 375.91 L1022.73 375.73 L1023.48 375.44 L1023.94 375.08 L1024.1 374.68 L1023.94 374.28 L1023.48 373.92 L1022.73 373.63 L1021.73 373.45 L1020.53 373.4 L1019.2 373.51 L1017.8 373.78 L1016.4 374.22 L1015.07 374.83 L1013.87 375.59 L1012.87 376.49 L1012.12 377.49 L1011.66 378.57 L1011.5 379.68 L1011.66 380.79 L1012.12 381.87 L1012.87 382.87 L1013.87 383.77 L1015.07 384.53 L1016.4 385.14 L1017.8 385.58 L1019.2 385.85 L1020.53 385.96 L1021.73 385.91 L1022.73 385.73 L1023.48 385.44 L1023.94 385.08 L1024.1 384.68 L1023.94 384.28 L1023.48 383.92 L1022.73 383.64 L1021.73 383.46 L1020.53 383.41 L1019.2 383.51 L1017.8 383.79 L1016.4 384.23 L1015.07 384.84 L1013.87 385.6 L1012.87 386.49 L1012.12 387.5 L1011.66 388.57 L1011.5 389.69 L1011.66 390.8 L1012.12 391.88 L1012.87 392.88 L1013.87 393.77 L1015.07 394.54 L1016.4 395.15 L1017.8 395.59 L1019.2 395.86 L1020.53 395.97 L1021.73 395.92 L1022.73 395.74 L1023.48 395.45 L1023.94 395.09 L1024.1 394.69 L1023.94 394.29 L1023.48 393.93 L1022.73 393.64 L1021.73 393.46 L1020.53 393.41 L1019.2 393.52 L1017.8 393.79 L1016.4 394.23 L1015.07 394.84 L1013.87 395.61 L1012.87 396.5 L1012.12 397.5 L1011.66 398.58 L1011.5 399.69 L1011.66 400.81 L1012.12 401.88 L1012.87 402.88 L1013.87 403.78 L1015.07 404.54 L1016.4 405.15 L1017.8 405.59 L1019.2 405.87 L1020.53 405.97 L1021.73 405.92 L1022.73 405.74 L1023.48 405.46 L1023.94 405.09 L1024.1 404.7 L1023.94 404.3 L1023.48 403.94 L1022.73 403.65 L1021.73 403.47 L1020.53 403.42 L1019.2 403.52 L1017.8 403.8 L1016.4 404.24 L1015.07 404.85 L1013.87 405.61 L1012.87 406.51 L1012.12 407.51 L1011.66 408.58 L1011.5 409.7 L1011.66 410.81 L1012.12 411.89 L1012.87 412.89 L1013.87 413.79 L1015.07 414.55 L1016.4 415.16 L1017.8 415.6" stroke-width="1.15" fill="none" stroke-linejoin="round"/>
<path d="M1049.7 384.7 L1049.7 409 L1063.75 409 L1063.75 384.7" stroke-width="1.2" fill="none" />
<path d="M1057.2 399.7 L1057.2 375.3 L1070.9 375.3 L1070.9 399.7" stroke-width="1.2" fill="none" />
<path d="M1017.8 415.6 L1020 417 L1057.75 417 L1057.75 409" stroke-width="1.5" fill="none" />
<path d="M708.4 412.8 L706 415 L706 425 L672.2 425 L672.2 397.8 L549 397.5" stroke-width="1.5" fill="none" stroke-linejoin="round"/>
<path d="M849.1 408.1 L848.5 410.5 L848.5 435.25 L757.5 434.2" stroke-width="1.5" fill="none" stroke-linejoin="round"/>
<path d="M763.5 434.2 L663.75 433.4 L663.75 400.6 L558 401.2" stroke-width="1.5" fill="none" stroke-linejoin="round"/>
<path d="M990.3 411 L990.6 413.5 L990.6 442.2 L905.5 440.6" stroke-width="1.5" fill="none" stroke-linejoin="round"/>
<path d="M898.5 440.4 L764 438.2" stroke-width="1.5" fill="none" stroke-linejoin="round"/>
<path d="M757.5 438.2 L654.75 437.2 L654.75 404 L566 404" stroke-width="1.5" fill="none" stroke-linejoin="round"/>
<path d="M760.9 413.75 L760.8 430 A5.5 6.3 0 0 0 760.8 442.5 L760.3 529" stroke-width="1.5" fill="none" />
<path d="M760.3 529 L751.7 531 L768.9 535 L751.7 539 L768.9 543 L751.7 547 L768.9 551 L751.7 555 L768.9 559 L751.7 563 L768.9 567 L751.7 571 L768.9 575 L760.3 577" stroke-width="1.27" fill="none" stroke-linejoin="miter"/>
<line x1="760.3" y1="577" x2="760.3" y2="637.6" stroke-width="1.5" />
<circle cx="760.9" cy="413.75" r="1.2" stroke-width="0.5" fill="#111"/>
<path d="M902 415.25 L901.7 434.5 A5.5 6 0 0 0 901.7 446.5 L901.4 532" stroke-width="1.5" fill="none" />
<path d="M901.4 532 L895 533.35 L907.79 536.12 L894.98 538.82 L907.78 541.58 L894.97 544.28 L907.76 547.05 L894.96 549.75 L907.75 552.52 L894.94 555.22 L907.74 557.98 L894.93 560.68 L907.72 563.45 L894.92 566.15 L907.71 568.92 L894.9 571.62 L901.3 573" stroke-width="1.27" fill="none" stroke-linejoin="miter"/>
<line x1="901.3" y1="573" x2="901.2" y2="638.7" stroke-width="1.5" />
<circle cx="902" cy="415.25" r="1.2" stroke-width="0.5" fill="#111"/>
<line x1="1044.5" y1="417" x2="1043.7" y2="536" stroke-width="1.5" />
<path d="M1043.9 536.3 L1036.69 537.68 L1051.08 540.58 L1036.67 543.35 L1051.05 546.25 L1036.64 549.02 L1051.03 551.92 L1036.61 554.68 L1051 557.58 L1036.59 560.35 L1050.97 563.25 L1036.56 566.02 L1050.95 568.92 L1036.53 571.68 L1050.92 574.58 L1036.51 577.35 L1043.7 578.8" stroke-width="1.27" fill="none" stroke-linejoin="miter"/>
<line x1="1043.5" y1="580" x2="1043.4" y2="639.8" stroke-width="1.5" />
<circle cx="1044.5" cy="417" r="1.2" stroke-width="0.5" fill="#111"/>
<path d="M454 337 L536 337.2 Q546.5 337.5 546.6 349 L546.7 418.75 M533.4 439.6 L456.5 439.6 Q442.5 439.6 442.4 424 L442.6 350 Q442.8 337 454 337" stroke-width="1.5" fill="none" />
<path d="M457 439.8 Q459 445 465 445.3 L533.4 445.5" stroke-width="1.2" fill="none" />
<path d="M464.7 336.8 L467 334.2 L521 334.2 L523.7 336.8" stroke-width="1.1" fill="none" />
<rect x="479.7" y="321.5" width="28.1" height="13" stroke-width="1.2" fill="none" />
<rect x="484.4" y="318.6" width="20.6" height="2.9" stroke-width="1.1" fill="none" />
<path d="M469.5 334 L469.5 329.5 L474.5 329.5 L474.5 326.6 L479.7 326.6" stroke-width="1.1" fill="none" />
<path d="M507.8 325 L513 325 L513 328.2 L518.5 328.2 L518.5 331 L523 331" stroke-width="1.1" fill="none" />
<path d="M523 331 Q526.5 331 526.6 336 L526.8 342 Q527 347 532 347" stroke-width="1.1" fill="none" />
<line x1="484.5" y1="322" x2="484.5" y2="343" stroke-width="1.0" stroke-dasharray="3.2 2.2"/>
<line x1="489" y1="322" x2="489" y2="343" stroke-width="1.0" stroke-dasharray="3.2 2.2"/>
<line x1="497.5" y1="322" x2="497.5" y2="343" stroke-width="1.0" stroke-dasharray="3.2 2.2"/>
<line x1="502.5" y1="322" x2="502.5" y2="343" stroke-width="1.0" stroke-dasharray="3.2 2.2"/>
<path d="M484.4 337.5 L484.4 346 Q479.2 349 479.2 353.5 L479.2 420.2 L508.7 420.2 L508.7 353.5 Q508.7 349 503 346 L503 337.5" stroke-width="1.1" fill="none" stroke-dasharray="3.2 2.2"/>
<line x1="479.2" y1="353.5" x2="508.7" y2="353.5" stroke-width="1.1" stroke-dasharray="3.2 2.2"/>
<path d="M479.2 420.2 Q482 424 484.1 428 L484.8 440 M508.7 420.2 Q505.5 424 503.1 428 L502.6 440" stroke-width="1.1" fill="none" stroke-dasharray="3.2 2.2"/>
<line x1="452" y1="430.7" x2="533" y2="430.7" stroke-width="1.1" stroke-dasharray="3.2 2.2"/>
<path d="M455.6 346.4 L453.86 346.94 L452.22 347.7 L450.74 348.67 L449.5 349.82 L448.57 351.12 L448 352.51 L447.8 353.96 L448 355.41 L448.57 356.8 L449.5 358.1 L450.74 359.25 L452.22 360.22 L453.86 360.98 L455.6 361.52 L457.34 361.83 L458.98 361.91 L460.46 361.79 L461.7 361.48 L462.63 361.03 L463.2 360.49 L463.4 359.88 L463.2 359.28 L462.63 358.73 L461.7 358.29 L460.46 357.98 L458.98 357.86 L457.34 357.94 L455.6 358.25 L453.86 358.78 L452.22 359.55 L450.74 360.52 L449.5 361.67 L448.57 362.97 L448 364.36 L447.8 365.81 L448 367.25 L448.57 368.65 L449.5 369.94 L450.74 371.1 L452.22 372.07 L453.86 372.83 L455.6 373.37 L457.34 373.68 L458.98 373.76 L460.46 373.63 L461.7 373.33 L462.63 372.88 L463.2 372.33 L463.4 371.73 L463.2 371.13 L462.63 370.58 L461.7 370.13 L460.46 369.83 L458.98 369.7 L457.34 369.78 L455.6 370.09 L453.86 370.63 L452.22 371.39 L450.74 372.37 L449.5 373.52 L448.57 374.81 L448 376.21 L447.8 377.65 L448 379.1 L448.57 380.5 L449.5 381.79 L450.74 382.94 L452.22 383.91 L453.86 384.68 L455.6 385.22 L457.34 385.52 L458.98 385.61 L460.46 385.48 L461.7 385.18 L462.63 384.73 L463.2 384.18 L463.4 383.58 L463.2 382.98 L462.63 382.43 L461.7 381.98 L460.46 381.67 L458.98 381.55 L457.34 381.63 L455.6 381.94 L453.86 382.48 L452.22 383.24 L450.74 384.21 L449.5 385.36 L448.57 386.66 L448 388.05 L447.8 389.5 L448 390.95 L448.57 392.34 L449.5 393.64 L450.74 394.79 L452.22 395.76 L453.86 396.52 L455.6 397.06 L457.34 397.37 L458.98 397.45 L460.46 397.33 L461.7 397.02 L462.63 396.57 L463.2 396.02 L463.4 395.42 L463.2 394.82 L462.63 394.27 L461.7 393.82 L460.46 393.52 L458.98 393.39 L457.34 393.48 L455.6 393.78 L453.86 394.32 L452.22 395.09 L450.74 396.06 L449.5 397.21 L448.57 398.5 L448 399.9 L447.8 401.35 L448 402.79 L448.57 404.19 L449.5 405.48 L450.74 406.63 L452.22 407.61 L453.86 408.37 L455.6 408.91 L457.34 409.22 L458.98 409.3 L460.46 409.17 L461.7 408.87 L462.63 408.42 L463.2 407.87 L463.4 407.27 L463.2 406.67 L462.63 406.12 L461.7 405.67 L460.46 405.37 L458.98 405.24 L457.34 405.32 L455.6 405.63 L453.86 406.17 L452.22 406.93 L450.74 407.9 L449.5 409.06 L448.57 410.35 L448 411.75 L447.8 413.19 L448 414.64 L448.57 416.03 L449.5 417.33 L450.74 418.48 L452.22 419.45 L453.86 420.22 L455.6 420.75 L457.34 421.06 L458.98 421.14 L460.46 421.02 L461.7 420.71 L462.63 420.27 L463.2 419.72 L463.4 419.12 L463.2 418.51 L462.63 417.97 L461.7 417.52 L460.46 417.21 L458.98 417.09 L457.34 417.17 L455.6 417.48 L453.86 418.02 L452.22 418.78 L450.74 419.75 L449.5 420.9 L448.57 422.2 L448 423.59 L447.8 425.04 L448 426.49 L448.57 427.88 L449.5 429.18 L450.74 430.33 L452.22 431.3 L453.86 432.06 L455.6 432.6" stroke-width="1.1" fill="none" stroke-linejoin="round" stroke-dasharray="3.2 2.2"/>
<path d="M533.6 346.4 L535.38 346.93 L537.07 347.68 L538.59 348.64 L539.85 349.78 L540.81 351.06 L541.4 352.45 L541.6 353.88 L541.4 355.32 L540.81 356.7 L539.85 357.99 L538.59 359.13 L537.07 360.09 L535.38 360.84 L533.6 361.37 L531.82 361.67 L530.13 361.74 L528.61 361.6 L527.35 361.29 L526.39 360.83 L525.8 360.27 L525.6 359.65 L525.8 359.04 L526.39 358.48 L527.35 358.02 L528.61 357.71 L530.13 357.57 L531.82 357.64 L533.6 357.94 L535.38 358.47 L537.07 359.22 L538.59 360.18 L539.85 361.32 L540.81 362.6 L541.4 363.99 L541.6 365.42 L541.4 366.86 L540.81 368.24 L539.85 369.53 L538.59 370.67 L537.07 371.63 L535.38 372.38 L533.6 372.91 L531.82 373.2 L530.13 373.28 L528.61 373.14 L527.35 372.82 L526.39 372.36 L525.8 371.8 L525.6 371.19 L525.8 370.58 L526.39 370.02 L527.35 369.56 L528.61 369.24 L530.13 369.11 L531.82 369.18 L533.6 369.48 L535.38 370 L537.07 370.76 L538.59 371.72 L539.85 372.86 L540.81 374.14 L541.4 375.53 L541.6 376.96 L541.4 378.4 L540.81 379.78 L539.85 381.07 L538.59 382.21 L537.07 383.17 L535.38 383.92 L533.6 384.45 L531.82 384.74 L530.13 384.81 L528.61 384.68 L527.35 384.36 L526.39 383.9 L525.8 383.34 L525.6 382.73 L525.8 382.12 L526.39 381.56 L527.35 381.1 L528.61 380.78 L530.13 380.65 L531.82 380.72 L533.6 381.02 L535.38 381.54 L537.07 382.3 L538.59 383.26 L539.85 384.4 L540.81 385.68 L541.4 387.06 L541.6 388.5 L541.4 389.94 L540.81 391.32 L539.85 392.6 L538.59 393.74 L537.07 394.7 L535.38 395.46 L533.6 395.98 L531.82 396.28 L530.13 396.35 L528.61 396.22 L527.35 395.9 L526.39 395.44 L525.8 394.88 L525.6 394.27 L525.8 393.66 L526.39 393.1 L527.35 392.64 L528.61 392.32 L530.13 392.19 L531.82 392.26 L533.6 392.55 L535.38 393.08 L537.07 393.83 L538.59 394.79 L539.85 395.93 L540.81 397.22 L541.4 398.6 L541.6 400.04 L541.4 401.47 L540.81 402.86 L539.85 404.14 L538.59 405.28 L537.07 406.24 L535.38 407 L533.6 407.52 L531.82 407.82 L530.13 407.89 L528.61 407.76 L527.35 407.44 L526.39 406.98 L525.8 406.42 L525.6 405.81 L525.8 405.2 L526.39 404.64 L527.35 404.18 L528.61 403.86 L530.13 403.72 L531.82 403.8 L533.6 404.09 L535.38 404.62 L537.07 405.37 L538.59 406.33 L539.85 407.47 L540.81 408.76 L541.4 410.14 L541.6 411.58 L541.4 413.01 L540.81 414.4 L539.85 415.68 L538.59 416.82 L537.07 417.78 L535.38 418.53 L533.6 419.06 L531.82 419.36 L530.13 419.43 L528.61 419.29 L527.35 418.98 L526.39 418.52 L525.8 417.96 L525.6 417.35 L525.8 416.73 L526.39 416.17 L527.35 415.71 L528.61 415.4 L530.13 415.26 L531.82 415.33 L533.6 415.63 L535.38 416.16 L537.07 416.91 L538.59 417.87 L539.85 419.01 L540.81 420.3 L541.4 421.68 L541.6 423.12 L541.4 424.55 L540.81 425.94 L539.85 427.22 L538.59 428.36 L537.07 429.32 L535.38 430.07 L533.6 430.6" stroke-width="1.1" fill="none" stroke-linejoin="round" stroke-dasharray="3.2 2.2"/>
<circle cx="493.6" cy="389.5" r="3.8" stroke-width="1.5" fill="#fff"/>
<rect x="563.5" y="338.4" width="31.9" height="11.3" stroke-width="1.3" fill="none" />
<line x1="586" y1="338.6" x2="586" y2="349.5" stroke-width="0.9" />
<line x1="588" y1="338.6" x2="588" y2="349.5" stroke-width="0.9" />
<line x1="590" y1="338.6" x2="590" y2="349.5" stroke-width="0.9" />
<line x1="592" y1="338.6" x2="592" y2="349.5" stroke-width="0.9" />
<line x1="594" y1="338.6" x2="594" y2="349.5" stroke-width="0.9" />
<line x1="568.4" y1="349.7" x2="568.4" y2="418.5" stroke-width="1.3" />
<line x1="590.9" y1="349.7" x2="590.9" y2="414.4" stroke-width="1.3" />
<line x1="581.2" y1="349.7" x2="581.2" y2="416" stroke-width="0.7" />
<line x1="583.4" y1="349.7" x2="583.4" y2="416" stroke-width="0.8" />
<line x1="585.2" y1="349.7" x2="585.2" y2="416" stroke-width="1.3" />
<line x1="587" y1="349.7" x2="587" y2="416" stroke-width="0.9" />
<line x1="588.8" y1="349.7" x2="588.8" y2="416" stroke-width="0.7" />
<rect x="581" y="414.4" width="16" height="4.2" stroke-width="1.0" fill="none" />
<rect x="533.4" y="418.75" width="69.6" height="23.95" stroke-width="1.3" fill="#fff" />
<path d="M603 418.2 L603 442.7 L532.8 442.7" stroke-width="2.6" fill="none" />
<line x1="533.4" y1="418.75" x2="533.4" y2="442.7" stroke-width="1.3" />
<path d="M541.8 418.75 L541.8 411 Q544.25 407.6 546.7 411 L546.7 418.75" stroke-width="1.1" fill="#fff" />
<line x1="541.8" y1="418.75" x2="541.8" y2="440" stroke-width="1.0" stroke-dasharray="3.2 2.2"/>
<line x1="546.7" y1="418.75" x2="546.7" y2="440" stroke-width="1.0" stroke-dasharray="3.2 2.2"/>
<path d="M551 418.75 L551 411 Q553.1 407.6 555.2 411 L555.2 418.75" stroke-width="1.1" fill="#fff" />
<line x1="551" y1="418.75" x2="551" y2="440" stroke-width="1.0" stroke-dasharray="3.2 2.2"/>
<line x1="555.2" y1="418.75" x2="555.2" y2="440" stroke-width="1.0" stroke-dasharray="3.2 2.2"/>
<path d="M560 418.75 L560 411 Q562.5 407.6 565 411 L565 418.75" stroke-width="1.1" fill="#fff" />
<line x1="560" y1="418.75" x2="560" y2="440" stroke-width="1.0" stroke-dasharray="3.2 2.2"/>
<line x1="565" y1="418.75" x2="565" y2="440" stroke-width="1.0" stroke-dasharray="3.2 2.2"/>
<line x1="537" y1="419" x2="537" y2="440" stroke-width="1.0" stroke-dasharray="3.2 2.2"/>
<path d="M549 397.5 Q544.6 397.8 544.4 403 L544.2 410" stroke-width="1.5" fill="none" />
<path d="M558 401.2 Q553.4 401.4 553.2 405.5 L553.1 410" stroke-width="1.5" fill="none" />
<path d="M566 404 Q562.8 404.2 562.6 407 L562.5 410" stroke-width="1.5" fill="none" />
<path d="M541.5 404 L544.3 399.2 L547.6 404.4" stroke-width="1.6" fill="none" />
<line x1="572" y1="436" x2="584" y2="423.5" stroke-width="0.8" />
<line x1="573.8" y1="435.8" x2="586.2" y2="424" stroke-width="0.8" />
<line x1="575.6" y1="435.6" x2="588.4" y2="424.5" stroke-width="0.8" />
<line x1="577.4" y1="435.4" x2="590.6" y2="425" stroke-width="0.8" />
<line x1="579.2" y1="435.2" x2="592.8" y2="425.5" stroke-width="0.8" />
<line x1="581" y1="435" x2="595" y2="426" stroke-width="0.8" />
<line x1="582.8" y1="434.8" x2="597.2" y2="426.5" stroke-width="0.8" />
<line x1="584.6" y1="434.6" x2="599.4" y2="427" stroke-width="0.8" />
<line x1="586.4" y1="434.4" x2="601.6" y2="427.5" stroke-width="0.8" />
<line x1="545" y1="433" x2="600" y2="431" stroke-width="1.0" stroke-dasharray="3.2 2.2"/>
<rect x="460.7" y="446.6" width="9.3" height="9.4" stroke-width="1.2" fill="none" />
<clipPath id="c1"><path d="M470 446.6 L486.4 446.6 L486.4 456 L470 456 Z"/></clipPath>
<g clip-path="url(#c1)">
<line x1="462.11" y1="456" x2="454.22" y2="446.6" stroke-width="1.25" />
<line x1="465.41" y1="456" x2="457.52" y2="446.6" stroke-width="1.25" />
<line x1="468.71" y1="456" x2="460.82" y2="446.6" stroke-width="1.25" />
<line x1="472.01" y1="456" x2="464.12" y2="446.6" stroke-width="1.25" />
<line x1="475.31" y1="456" x2="467.42" y2="446.6" stroke-width="1.25" />
<line x1="478.61" y1="456" x2="470.72" y2="446.6" stroke-width="1.25" />
<line x1="481.91" y1="456" x2="474.02" y2="446.6" stroke-width="1.25" />
<line x1="485.21" y1="456" x2="477.32" y2="446.6" stroke-width="1.25" />
<line x1="488.51" y1="456" x2="480.62" y2="446.6" stroke-width="1.25" />
<line x1="491.81" y1="456" x2="483.92" y2="446.6" stroke-width="1.25" />
</g>
<path d="M470 446.6 L486.4 446.6 L486.4 456 L470 456 Z" stroke-width="1.2" fill="none" />
<clipPath id="c2"><path d="M500.6 446.6 L515.6 446.6 L515.6 456 L500.6 456 Z"/></clipPath>
<g clip-path="url(#c2)">
<line x1="492.71" y1="456" x2="484.82" y2="446.6" stroke-width="1.25" />
<line x1="496.01" y1="456" x2="488.12" y2="446.6" stroke-width="1.25" />
<line x1="499.31" y1="456" x2="491.42" y2="446.6" stroke-width="1.25" />
<line x1="502.61" y1="456" x2="494.72" y2="446.6" stroke-width="1.25" />
<line x1="505.91" y1="456" x2="498.02" y2="446.6" stroke-width="1.25" />
<line x1="509.21" y1="456" x2="501.32" y2="446.6" stroke-width="1.25" />
<line x1="512.51" y1="456" x2="504.62" y2="446.6" stroke-width="1.25" />
<line x1="515.81" y1="456" x2="507.92" y2="446.6" stroke-width="1.25" />
<line x1="519.11" y1="456" x2="511.22" y2="446.6" stroke-width="1.25" />
<line x1="522.41" y1="456" x2="514.52" y2="446.6" stroke-width="1.25" />
</g>
<path d="M500.6 446.6 L515.6 446.6 L515.6 456 L500.6 456 Z" stroke-width="1.2" fill="none" />
<clipPath id="c3"><path d="M503.5 441.4 L523.5 441.4 L517.5 446.4 L502.5 446.4 Z"/></clipPath>
<g clip-path="url(#c3)">
<line x1="497.3" y1="446.6" x2="502" y2="441" stroke-width="1.1" />
<line x1="500.1" y1="446.6" x2="504.8" y2="441" stroke-width="1.1" />
<line x1="502.9" y1="446.6" x2="507.6" y2="441" stroke-width="1.1" />
<line x1="505.7" y1="446.6" x2="510.4" y2="441" stroke-width="1.1" />
<line x1="508.5" y1="446.6" x2="513.2" y2="441" stroke-width="1.1" />
<line x1="511.3" y1="446.6" x2="516" y2="441" stroke-width="1.1" />
<line x1="514.1" y1="446.6" x2="518.8" y2="441" stroke-width="1.1" />
<line x1="516.9" y1="446.6" x2="521.6" y2="441" stroke-width="1.1" />
<line x1="519.7" y1="446.6" x2="524.4" y2="441" stroke-width="1.1" />
<line x1="522.5" y1="446.6" x2="527.2" y2="441" stroke-width="1.1" />
<line x1="525.3" y1="446.6" x2="530" y2="441" stroke-width="1.1" />
<line x1="528.1" y1="446.6" x2="532.8" y2="441" stroke-width="1.1" />
</g>
<path d="M503.5 441.4 L523.5 441.4 L517.5 446.4 L502.5 446.4 Z" stroke-width="1.2" fill="none" />
<line x1="515.6" y1="447.2" x2="606" y2="447.6" stroke-width="1.1" />
<line x1="515.6" y1="455.5" x2="540" y2="455.7" stroke-width="1.1" />
<clipPath id="c4"><path d="M388.1 457.8 L395.7 457.8 L395.7 509 L470.2 500.2 L478 494 L480.3 486 L480.25 459.4 L486.5 458.8 L489 505 L481.5 507.7 L388.1 517 Z"/></clipPath>
<g clip-path="url(#c4)">
<line x1="336.78" y1="519" x2="386" y2="456" stroke-width="1.3" />
<line x1="340.28" y1="519" x2="389.5" y2="456" stroke-width="1.3" />
<line x1="343.78" y1="519" x2="393" y2="456" stroke-width="1.3" />
<line x1="347.28" y1="519" x2="396.5" y2="456" stroke-width="1.3" />
<line x1="350.78" y1="519" x2="400" y2="456" stroke-width="1.3" />
<line x1="354.28" y1="519" x2="403.5" y2="456" stroke-width="1.3" />
<line x1="357.78" y1="519" x2="407" y2="456" stroke-width="1.3" />
<line x1="361.28" y1="519" x2="410.5" y2="456" stroke-width="1.3" />
<line x1="364.78" y1="519" x2="414" y2="456" stroke-width="1.3" />
<line x1="368.28" y1="519" x2="417.5" y2="456" stroke-width="1.3" />
<line x1="371.78" y1="519" x2="421" y2="456" stroke-width="1.3" />
<line x1="375.28" y1="519" x2="424.5" y2="456" stroke-width="1.3" />
<line x1="378.78" y1="519" x2="428" y2="456" stroke-width="1.3" />
<line x1="382.28" y1="519" x2="431.5" y2="456" stroke-width="1.3" />
<line x1="385.78" y1="519" x2="435" y2="456" stroke-width="1.3" />
<line x1="389.28" y1="519" x2="438.5" y2="456" stroke-width="1.3" />
<line x1="392.78" y1="519" x2="442" y2="456" stroke-width="1.3" />
<line x1="396.28" y1="519" x2="445.5" y2="456" stroke-width="1.3" />
<line x1="399.78" y1="519" x2="449" y2="456" stroke-width="1.3" />
<line x1="403.28" y1="519" x2="452.5" y2="456" stroke-width="1.3" />
<line x1="406.78" y1="519" x2="456" y2="456" stroke-width="1.3" />
<line x1="410.28" y1="519" x2="459.5" y2="456" stroke-width="1.3" />
<line x1="413.78" y1="519" x2="463" y2="456" stroke-width="1.3" />
<line x1="417.28" y1="519" x2="466.5" y2="456" stroke-width="1.3" />
<line x1="420.78" y1="519" x2="470" y2="456" stroke-width="1.3" />
<line x1="424.28" y1="519" x2="473.5" y2="456" stroke-width="1.3" />
<line x1="427.78" y1="519" x2="477" y2="456" stroke-width="1.3" />
<line x1="431.28" y1="519" x2="480.5" y2="456" stroke-width="1.3" />
<line x1="434.78" y1="519" x2="484" y2="456" stroke-width="1.3" />
<line x1="438.28" y1="519" x2="487.5" y2="456" stroke-width="1.3" />
<line x1="441.78" y1="519" x2="491" y2="456" stroke-width="1.3" />
<line x1="445.28" y1="519" x2="494.5" y2="456" stroke-width="1.3" />
<line x1="448.78" y1="519" x2="498" y2="456" stroke-width="1.3" />
<line x1="452.28" y1="519" x2="501.5" y2="456" stroke-width="1.3" />
<line x1="455.78" y1="519" x2="505" y2="456" stroke-width="1.3" />
<line x1="459.28" y1="519" x2="508.5" y2="456" stroke-width="1.3" />
<line x1="462.78" y1="519" x2="512" y2="456" stroke-width="1.3" />
<line x1="466.28" y1="519" x2="515.5" y2="456" stroke-width="1.3" />
<line x1="469.78" y1="519" x2="519" y2="456" stroke-width="1.3" />
<line x1="473.28" y1="519" x2="522.5" y2="456" stroke-width="1.3" />
<line x1="476.78" y1="519" x2="526" y2="456" stroke-width="1.3" />
<line x1="480.28" y1="519" x2="529.5" y2="456" stroke-width="1.3" />
<line x1="483.78" y1="519" x2="533" y2="456" stroke-width="1.3" />
<line x1="487.28" y1="519" x2="536.5" y2="456" stroke-width="1.3" />
<line x1="490.78" y1="519" x2="540" y2="456" stroke-width="1.3" />
<line x1="494.28" y1="519" x2="543.5" y2="456" stroke-width="1.3" />
<line x1="497.78" y1="519" x2="547" y2="456" stroke-width="1.3" />
<line x1="501.28" y1="519" x2="550.5" y2="456" stroke-width="1.3" />
<line x1="504.78" y1="519" x2="554" y2="456" stroke-width="1.3" />
<line x1="508.28" y1="519" x2="557.5" y2="456" stroke-width="1.3" />
<line x1="511.78" y1="519" x2="561" y2="456" stroke-width="1.3" />
<line x1="515.28" y1="519" x2="564.5" y2="456" stroke-width="1.3" />
<line x1="518.78" y1="519" x2="568" y2="456" stroke-width="1.3" />
<line x1="522.28" y1="519" x2="571.5" y2="456" stroke-width="1.3" />
<line x1="525.78" y1="519" x2="575" y2="456" stroke-width="1.3" />
<line x1="529.28" y1="519" x2="578.5" y2="456" stroke-width="1.3" />
<line x1="532.78" y1="519" x2="582" y2="456" stroke-width="1.3" />
<line x1="536.28" y1="519" x2="585.5" y2="456" stroke-width="1.3" />
<line x1="539.78" y1="519" x2="589" y2="456" stroke-width="1.3" />
</g>
<path d="M388.1 457.8 L395.7 457.8 L395.7 509 L470.2 500.2 L478 494 L480.3 486 L480.25 459.4 L486.5 458.8 L489 505 L481.5 507.7 L388.1 517 Z" stroke-width="1.2" fill="none" />
<clipPath id="c5"><path d="M500.3 458.8 L508 459.4 L508 488 L510.5 495 L516.3 500.2 L593.4 512 L593.4 462 L600.9 462 L600.9 520.2 L505.5 506.5 L499.6 505 Z"/></clipPath>
<g clip-path="url(#c5)">
<line x1="446.44" y1="522" x2="498" y2="456" stroke-width="1.3" />
<line x1="449.94" y1="522" x2="501.5" y2="456" stroke-width="1.3" />
<line x1="453.44" y1="522" x2="505" y2="456" stroke-width="1.3" />
<line x1="456.94" y1="522" x2="508.5" y2="456" stroke-width="1.3" />
<line x1="460.44" y1="522" x2="512" y2="456" stroke-width="1.3" />
<line x1="463.94" y1="522" x2="515.5" y2="456" stroke-width="1.3" />
<line x1="467.44" y1="522" x2="519" y2="456" stroke-width="1.3" />
<line x1="470.94" y1="522" x2="522.5" y2="456" stroke-width="1.3" />
<line x1="474.44" y1="522" x2="526" y2="456" stroke-width="1.3" />
<line x1="477.94" y1="522" x2="529.5" y2="456" stroke-width="1.3" />
<line x1="481.44" y1="522" x2="533" y2="456" stroke-width="1.3" />
<line x1="484.94" y1="522" x2="536.5" y2="456" stroke-width="1.3" />
<line x1="488.44" y1="522" x2="540" y2="456" stroke-width="1.3" />
<line x1="491.94" y1="522" x2="543.5" y2="456" stroke-width="1.3" />
<line x1="495.44" y1="522" x2="547" y2="456" stroke-width="1.3" />
<line x1="498.94" y1="522" x2="550.5" y2="456" stroke-width="1.3" />
<line x1="502.44" y1="522" x2="554" y2="456" stroke-width="1.3" />
<line x1="505.94" y1="522" x2="557.5" y2="456" stroke-width="1.3" />
<line x1="509.44" y1="522" x2="561" y2="456" stroke-width="1.3" />
<line x1="512.94" y1="522" x2="564.5" y2="456" stroke-width="1.3" />
<line x1="516.44" y1="522" x2="568" y2="456" stroke-width="1.3" />
<line x1="519.94" y1="522" x2="571.5" y2="456" stroke-width="1.3" />
<line x1="523.44" y1="522" x2="575" y2="456" stroke-width="1.3" />
<line x1="526.94" y1="522" x2="578.5" y2="456" stroke-width="1.3" />
<line x1="530.44" y1="522" x2="582" y2="456" stroke-width="1.3" />
<line x1="533.94" y1="522" x2="585.5" y2="456" stroke-width="1.3" />
<line x1="537.44" y1="522" x2="589" y2="456" stroke-width="1.3" />
<line x1="540.94" y1="522" x2="592.5" y2="456" stroke-width="1.3" />
<line x1="544.44" y1="522" x2="596" y2="456" stroke-width="1.3" />
<line x1="547.94" y1="522" x2="599.5" y2="456" stroke-width="1.3" />
<line x1="551.44" y1="522" x2="603" y2="456" stroke-width="1.3" />
<line x1="554.94" y1="522" x2="606.5" y2="456" stroke-width="1.3" />
<line x1="558.44" y1="522" x2="610" y2="456" stroke-width="1.3" />
<line x1="561.94" y1="522" x2="613.5" y2="456" stroke-width="1.3" />
<line x1="565.44" y1="522" x2="617" y2="456" stroke-width="1.3" />
<line x1="568.94" y1="522" x2="620.5" y2="456" stroke-width="1.3" />
<line x1="572.44" y1="522" x2="624" y2="456" stroke-width="1.3" />
<line x1="575.94" y1="522" x2="627.5" y2="456" stroke-width="1.3" />
<line x1="579.44" y1="522" x2="631" y2="456" stroke-width="1.3" />
<line x1="582.94" y1="522" x2="634.5" y2="456" stroke-width="1.3" />
<line x1="586.44" y1="522" x2="638" y2="456" stroke-width="1.3" />
<line x1="589.94" y1="522" x2="641.5" y2="456" stroke-width="1.3" />
<line x1="593.44" y1="522" x2="645" y2="456" stroke-width="1.3" />
<line x1="596.94" y1="522" x2="648.5" y2="456" stroke-width="1.3" />
<line x1="600.44" y1="522" x2="652" y2="456" stroke-width="1.3" />
<line x1="603.94" y1="522" x2="655.5" y2="456" stroke-width="1.3" />
<line x1="607.44" y1="522" x2="659" y2="456" stroke-width="1.3" />
<line x1="610.94" y1="522" x2="662.5" y2="456" stroke-width="1.3" />
<line x1="614.44" y1="522" x2="666" y2="456" stroke-width="1.3" />
<line x1="617.94" y1="522" x2="669.5" y2="456" stroke-width="1.3" />
<line x1="621.44" y1="522" x2="673" y2="456" stroke-width="1.3" />
<line x1="624.94" y1="522" x2="676.5" y2="456" stroke-width="1.3" />
<line x1="628.44" y1="522" x2="680" y2="456" stroke-width="1.3" />
<line x1="631.94" y1="522" x2="683.5" y2="456" stroke-width="1.3" />
<line x1="635.44" y1="522" x2="687" y2="456" stroke-width="1.3" />
<line x1="638.94" y1="522" x2="690.5" y2="456" stroke-width="1.3" />
<line x1="642.44" y1="522" x2="694" y2="456" stroke-width="1.3" />
<line x1="645.94" y1="522" x2="697.5" y2="456" stroke-width="1.3" />
<line x1="649.44" y1="522" x2="701" y2="456" stroke-width="1.3" />
<line x1="652.94" y1="522" x2="704.5" y2="456" stroke-width="1.3" />
</g>
<path d="M500.3 458.8 L508 459.4 L508 488 L510.5 495 L516.3 500.2 L593.4 512 L593.4 462 L600.9 462 L600.9 520.2 L505.5 506.5 L499.6 505 Z" stroke-width="1.2" fill="none" />
<line x1="388.1" y1="457.8" x2="486.5" y2="458.6" stroke-width="1.5" />
<line x1="500.3" y1="458.4" x2="606" y2="459.2" stroke-width="1.5" />
<line x1="508" y1="461.8" x2="593.4" y2="462.2" stroke-width="1.1" />
<line x1="396.9" y1="459" x2="396.9" y2="508.86" stroke-width="1.5" />
<line x1="398.6" y1="459" x2="398.6" y2="508.66" stroke-width="1.5" />
<line x1="400.2" y1="459" x2="400.2" y2="508.47" stroke-width="1.5" />
<line x1="403" y1="459" x2="403" y2="508.14" stroke-width="1.15" />
<line x1="406.2" y1="459" x2="406.2" y2="507.76" stroke-width="1.15" />
<line x1="409.4" y1="459" x2="409.4" y2="507.38" stroke-width="1.15" />
<line x1="412.8" y1="459" x2="412.8" y2="506.98" stroke-width="1.15" />
<line x1="416.2" y1="459" x2="416.2" y2="506.58" stroke-width="1.15" />
<line x1="420" y1="459" x2="420" y2="506.13" stroke-width="1.15" />
<line x1="424.3" y1="459" x2="424.3" y2="505.62" stroke-width="1.15" />
<line x1="429.3" y1="459" x2="429.3" y2="505.03" stroke-width="1.15" />
<line x1="434.6" y1="460" x2="434.6" y2="498" stroke-width="1.1" stroke-dasharray="2.6 2"/>
<line x1="440.7" y1="461" x2="440.7" y2="500" stroke-width="1.1" stroke-dasharray="2.6 2"/>
<line x1="448" y1="464" x2="448" y2="497" stroke-width="1.1" stroke-dasharray="2.6 2"/>
<line x1="455" y1="465" x2="455" y2="472" stroke-width="1.1" stroke-dasharray="2.6 2"/>
<path d="M455 459.5 Q465 463.5 477 459.5" stroke-width="1.0" fill="none" />
<line x1="486.5" y1="456" x2="489" y2="505" stroke-width="1.2" />
<line x1="500.3" y1="456" x2="499.8" y2="505" stroke-width="1.2" />
<line x1="493.5" y1="441" x2="493.8" y2="505" stroke-width="0.9" stroke-dasharray="3 2"/>
<line x1="497.6" y1="446" x2="497.4" y2="505" stroke-width="1.0" />
<line x1="491" y1="459" x2="491.6" y2="505" stroke-width="0.8" stroke-dasharray="2 2.5"/>
<rect x="482.1" y="505.2" width="23.2" height="5.6" stroke-width="1.3" fill="#fff" />
<line x1="487.5" y1="505.2" x2="487.5" y2="510.8" stroke-width="1.0" />
<line x1="500" y1="505.2" x2="500" y2="510.8" stroke-width="1.0" />
<rect x="484" y="510.8" width="20" height="12.2" stroke-width="1.2" fill="#fff" />
<line x1="500.5" y1="510.8" x2="500.5" y2="523" stroke-width="1.6" />
<line x1="484" y1="516" x2="504" y2="516" stroke-width="0.9" stroke-dasharray="2 1.6"/>
<rect x="502" y="505.5" width="4" height="5.5" stroke-width="0.8" fill="#111" />
<line x1="388.1" y1="517.6" x2="601" y2="520.6" stroke-width="1.0" />
<path d="M402 517.2 L481 508.8 L481 511.5 L420 517.5 Z" stroke-width="0.6" fill="#999" stroke-opacity="0.5"/>
<line x1="402" y1="518" x2="482" y2="510.8" stroke-width="0.9" />
<line x1="505" y1="508" x2="601" y2="520.4" stroke-width="0.9" />
<path d="M533 447.6 L603 448 Q613.4 448.2 613.4 457 L613.4 546" stroke-width="1.6" fill="none" />
<path d="M600.9 459.2 L606 459.4 L606 546" stroke-width="1.3" fill="none" />
<line x1="540" y1="458.6" x2="606" y2="459.2" stroke-width="1.4" />
<path d="M603 430.4 C625 425.5 644.5 432 644.8 452 L644.7 546.5" stroke-width="2.2" fill="none" />
<line x1="616" y1="506" x2="616" y2="546" stroke-width="0.9" stroke-opacity="0.75"/>
<line x1="618.5" y1="504" x2="618.5" y2="546" stroke-width="0.9" stroke-opacity="0.75"/>
<line x1="621" y1="508" x2="621" y2="546" stroke-width="0.9" stroke-opacity="0.75"/>
<line x1="623.2" y1="505" x2="623.2" y2="546" stroke-width="0.9" stroke-opacity="0.75"/>
<line x1="625.6" y1="497" x2="625.6" y2="546" stroke-width="0.9" stroke-opacity="0.75"/>
<line x1="627.8" y1="498" x2="627.8" y2="546" stroke-width="0.9" stroke-opacity="0.75"/>
<line x1="630" y1="488" x2="630" y2="546" stroke-width="0.9" stroke-opacity="0.75"/>
<line x1="632.2" y1="483" x2="632.2" y2="546" stroke-width="0.9" stroke-opacity="0.75"/>
<line x1="634.4" y1="477" x2="634.4" y2="546" stroke-width="0.9" stroke-opacity="0.75"/>
<line x1="636.4" y1="470" x2="636.4" y2="546" stroke-width="1.3" stroke-opacity="0.75"/>
<line x1="638.3" y1="466" x2="638.3" y2="546" stroke-width="1.3" stroke-opacity="0.75"/>
<line x1="640.2" y1="463" x2="640.2" y2="546" stroke-width="1.3" stroke-opacity="0.75"/>
<line x1="642" y1="461" x2="642" y2="546" stroke-width="1.3" stroke-opacity="0.75"/>
<path d="M606 546 q3.5 3 7.4 1 q3 -2.5 6 0.5 q3 2.5 6 0 q3 -2 6 0.5 q3 2 6 0 q3 -1.6 7.3 -1.2" stroke-width="1.2" fill="none" />
<path d="M561.4 442.7 L561.4 468.9 Q561.4 475.9 568.4 475.9 L575.5 475.9" stroke-width="1.2" fill="none" />
<path d="M565.2 442.7 L565.2 468.6 Q565.2 472.6 569.2 472.6 L575.5 472.6" stroke-width="1.2" fill="none" />
<line x1="575.5" y1="472.6" x2="575.5" y2="475.9" stroke-width="1.0" />
<line x1="575.5" y1="473.65" x2="587.5" y2="474.65" stroke-width="1.9" />
<path d="M551.4 442.7 L551.4 479.4 Q551.4 486.4 558.4 486.4 L575.5 486.4" stroke-width="1.2" fill="none" />
<path d="M555.8 442.7 L555.8 478.6 Q555.8 482.6 559.8 482.6 L575.5 482.6" stroke-width="1.2" fill="none" />
<line x1="575.5" y1="482.6" x2="575.5" y2="486.4" stroke-width="1.0" />
<line x1="575.5" y1="483.9" x2="587.5" y2="484.9" stroke-width="1.9" />
<path d="M540.7 442.7 L540.7 488.8 Q540.7 495.8 547.7 495.8 L575.5 495.8" stroke-width="1.2" fill="none" />
<path d="M545.7 442.7 L545.7 488 Q545.7 492 549.7 492 L575.5 492" stroke-width="1.2" fill="none" />
<line x1="575.5" y1="492" x2="575.5" y2="495.8" stroke-width="1.0" />
<line x1="575.5" y1="493.3" x2="587.5" y2="494.3" stroke-width="1.9" />
<path d="M583 495.5 Q586 503 593.4 504" stroke-width="1.0" fill="none" />
<line x1="592.2" y1="464" x2="592.2" y2="510" stroke-width="1.2" stroke-dasharray="1.6 1.4"/>
<path d="M481.56 523.75 L539.14 523.75 L539.14 556.41 L519.38 556.41 L519.38 527.19" stroke-width="1.3" fill="none" />
<line x1="519.38" y1="527.19" x2="481.56" y2="527.19" stroke-width="1.3" />
<path d="M455.78 563.63 C473.83 561.56 473.83 540.94 481.56 527.19 L519.38 527.19" stroke-width="1.2" fill="none" />
<path d="M452.34 559.85 C466.95 558.99 470.39 539.22 472.97 527.19 Q474.97 523.75 481.56 523.75" stroke-width="1.2" fill="none" />
<path d="M457.5 534.06 L461.37 537.26 L469.1 530.86 L472.97 534.06" stroke-width="1.1" fill="none" stroke-linejoin="miter"/>
<path d="M479.85 534.06 L482.04 537.26 L486.43 530.86 L490.83 537.26 L495.22 530.86 L499.61 537.26 L504 530.86 L508.4 537.26 L512.79 530.86 L517.18 537.26 L519.38 534.06" stroke-width="1.27" fill="none" stroke-linejoin="miter"/>
<path d="M521.1 534.06 L522.82 536.26 L526.25 531.86 L529.69 536.26 L533.13 531.86 L536.57 536.26 L538.28 534.06" stroke-width="0.85" fill="none" stroke-linejoin="miter"/>
<path d="M540 534.06 L542.21 537.37 L546.05 530.41 L550.46 537.03 L554.3 530.06 L558.71 536.69 L560.63 533.2" stroke-width="1.1" fill="none" stroke-linejoin="miter"/>
<path d="M559.77 526.33 L559.77 553.83 L540 553.83" stroke-width="1.2" fill="none" />
<path d="M563.21 526.33 L563.21 556.41 L540 556.41" stroke-width="1.2" fill="none" />
<path d="M559.77 526.33 Q561.49 524.61 563.21 526.33" stroke-width="1.1" fill="none" />
<circle cx="563.72" cy="532" r="0.9" stroke-width="0.8" fill="#111"/>
<rect x="452.34" y="560.7" width="70.47" height="4.3" stroke-width="1.2" fill="none" />
<path d="M522.82 560.7 Q524.88 562.77 522.82 565" stroke-width="1.1" fill="none" />
<circle cx="455.09" cy="560.88" r="1.3" stroke-width="0.8" fill="#111"/>
<rect x="450.97" y="531.49" width="5.67" height="14.61" stroke-width="1.2" fill="none" />
<line x1="453.89" y1="535.78" x2="453.89" y2="546.09" stroke-width="1.0" />
<rect x="444.61" y="546.09" width="18.05" height="7.73" stroke-width="1.2" fill="none" />
<line x1="450.63" y1="548.67" x2="450.63" y2="552.11" stroke-width="1.2" />
<line x1="456.64" y1="548.67" x2="456.64" y2="552.11" stroke-width="1.2" />
<rect x="451.49" y="553.83" width="4.3" height="6.88" stroke-width="1.0" fill="none" />
<rect x="489.3" y="555.03" width="9.45" height="4.47" stroke-width="1.1" fill="none" />
<rect x="502.19" y="552.97" width="17.19" height="2.58" stroke-width="1.1" fill="none" />
<circle cx="528.49" cy="554.35" r="1.4" stroke-width="0.8" fill="#111"/>
<path d="M526.25 556.75 L526.25 566.72 Q526.25 573.94 532.61 573.94 Q538.63 573.94 538.63 566.72 L538.63 556.75" stroke-width="1.2" fill="none" />
<line x1="528.83" y1="561.56" x2="536.57" y2="561.56" stroke-width="1.0" />
<rect x="492.22" y="565" width="3.44" height="3.44" stroke-width="1.0" fill="none" />
<path d="M492.22 568.44 L493.94 570.5 L495.66 568.44" stroke-width="1.0" fill="none" />
<path d="M500.47 573.6 L479.85 573.94 Q475.03 573.94 475.03 577.89 Q475.03 582.19 479.85 582.19 L500.47 581.85" stroke-width="1.3" fill="none" />
<path d="M500.47 575.66 L481.56 576 Q478.81 576 478.81 578.06 Q478.81 579.96 481.56 579.96 L498.75 579.78" stroke-width="1.1" fill="none" />
<line x1="500.47" y1="573.6" x2="500.47" y2="575.66" stroke-width="1.1" />
<rect x="491.36" y="578.75" width="5.67" height="17.19" stroke-width="1.1" fill="#fff" />
<line x1="491.36" y1="581.85" x2="497.03" y2="581.85" stroke-width="1.5" />
<line x1="491.36" y1="584.94" x2="497.03" y2="584.94" stroke-width="1.5" />
<line x1="491.36" y1="588.03" x2="497.03" y2="588.03" stroke-width="1.5" />
<line x1="491.36" y1="591.13" x2="497.03" y2="591.13" stroke-width="1.5" />
<line x1="491.36" y1="593.88" x2="497.03" y2="593.88" stroke-width="1.5" />
<path d="M467.81 595.08 L503.91 595.08 L503.91 600.24 L472.97 600.24 L472.97 621.72 L518.52 621.72 L518.52 605.39 L523.67 605.39 L523.67 626.88 L467.81 626.88 Z" stroke-width="1.4" fill="none" />
<rect x="485" y="600.24" width="16.33" height="3.95" stroke-width="1.2" fill="#fff" />
<rect x="489.3" y="604.19" width="8.08" height="12.03" stroke-width="1.0" fill="#fff" />
<line x1="488.44" y1="606.25" x2="498.24" y2="606.25" stroke-width="1.6" />
<line x1="488.44" y1="608.32" x2="498.24" y2="608.32" stroke-width="1.6" />
<line x1="488.44" y1="610.38" x2="498.24" y2="610.38" stroke-width="1.6" />
<line x1="488.44" y1="612.44" x2="498.24" y2="612.44" stroke-width="1.6" />
<line x1="488.44" y1="614.5" x2="498.24" y2="614.5" stroke-width="1.6" />
<rect x="478.47" y="607.63" width="8.25" height="5.16" stroke-width="1.1" fill="none" />
<rect x="502.19" y="607.11" width="10.31" height="7.39" stroke-width="1.1" fill="none" />
<rect x="512.5" y="608.66" width="6.02" height="4.13" stroke-width="1.0" fill="none" />
<rect x="491.88" y="616.22" width="4.3" height="5.5" stroke-width="1.0" fill="none" />
<rect x="491.36" y="627.57" width="5.33" height="3.78" stroke-width="0.8" fill="#222" />
<rect x="523.67" y="607.97" width="61.02" height="6.02" stroke-width="1.2" fill="none" />
<line x1="523.67" y1="611.75" x2="584.69" y2="612.44" stroke-width="1.0" />
<rect x="584.69" y="606.25" width="10.31" height="10.31" stroke-width="1.2" fill="#fff" />
<line x1="584.69" y1="608.83" x2="595.01" y2="608.83" stroke-width="0.9" />
<line x1="584.69" y1="613.82" x2="595.01" y2="613.82" stroke-width="0.9" />
<rect x="595.01" y="603.67" width="8.59" height="16.33" stroke-width="1.0" fill="#111" />
<line x1="598.07" y1="608.55" x2="596.07" y2="613.55" stroke-width="0.7" style="stroke:#ccc"/>
<line x1="599.44" y1="608.55" x2="597.44" y2="613.55" stroke-width="0.7" style="stroke:#ccc"/>
<line x1="600.82" y1="608.55" x2="598.82" y2="613.55" stroke-width="0.7" style="stroke:#ccc"/>
<line x1="602.19" y1="608.55" x2="600.19" y2="613.55" stroke-width="0.7" style="stroke:#ccc"/>
<ellipse cx="147" cy="177" rx="129.5" ry="93.5" stroke-width="1.8"/>
<ellipse cx="146" cy="177.5" rx="116" ry="80" stroke-width="1.9"/>
<line x1="17.5" y1="177" x2="16.9" y2="254" stroke-width="1.5" />
<line x1="276.5" y1="177" x2="276.5" y2="254" stroke-width="1.5" />
<path d="M16.9 254 A129.5 93.5 0 0 0 276.5 254" stroke-width="1.5" fill="none" />
<clipPath id="cin"><ellipse cx="146" cy="177.5" rx="116" ry="80"/></clipPath>
<g clip-path="url(#cin)"><ellipse cx="146" cy="235" rx="116" ry="80" stroke-width="1.4"/></g>
<line x1="31.6" y1="165.26" x2="31.6" y2="190.24" stroke-width="1.75" />
<line x1="35.2" y1="154.82" x2="35.2" y2="200.68" stroke-width="1.75" />
<line x1="38.7" y1="148.1" x2="38.7" y2="204.1" stroke-width="1.75" />
<line x1="42.2" y1="142.79" x2="42.2" y2="198.79" stroke-width="1.75" />
<line x1="46.2" y1="137.72" x2="46.2" y2="193.72" stroke-width="1.75" />
<line x1="50.4" y1="133.19" x2="50.4" y2="189.19" stroke-width="1.75" />
<line x1="55" y1="128.89" x2="55" y2="184.89" stroke-width="1.75" />
<line x1="59.8" y1="124.97" x2="59.8" y2="180.97" stroke-width="1.75" />
<line x1="65.2" y1="121.1" x2="65.2" y2="177.1" stroke-width="1.75" />
<line x1="70.3" y1="117.88" x2="70.3" y2="173.88" stroke-width="1.75" />
<line x1="76.2" y1="114.6" x2="76.2" y2="170.6" stroke-width="1.4" />
<line x1="82" y1="111.78" x2="82" y2="167.78" stroke-width="1.4" />
<line x1="88.6" y1="108.98" x2="88.6" y2="164.98" stroke-width="1.4" />
<line x1="95" y1="106.65" x2="95" y2="162.65" stroke-width="1.4" />
<line x1="102" y1="104.48" x2="102" y2="160.48" stroke-width="1.4" />
<line x1="108.3" y1="102.84" x2="108.3" y2="158.84" stroke-width="1.4" />
<line x1="116" y1="108" x2="116" y2="156" stroke-width="1.1" stroke-dasharray="7 3 3 3"/>
<line x1="123.5" y1="122" x2="123.5" y2="140" stroke-width="1.0" stroke-dasharray="2 5"/>
<line x1="244.5" y1="180.75" x2="244.5" y2="191.75" stroke-width="0.8" />
<line x1="246.5" y1="181.55" x2="246.5" y2="194.05" stroke-width="0.8" />
<line x1="248.5" y1="182.54" x2="248.5" y2="196.54" stroke-width="0.8" />
<line x1="250.5" y1="183.77" x2="250.5" y2="199.27" stroke-width="0.8" />
<line x1="252.5" y1="185.29" x2="252.5" y2="202.29" stroke-width="0.8" />
<line x1="243.5" y1="146" x2="246" y2="178" stroke-width="0.8" stroke-dasharray="1.5 2"/>
<line x1="184" y1="267.4" x2="184" y2="343.1" stroke-width="1.55" />
<line x1="190.3" y1="265.92" x2="190.3" y2="341.62" stroke-width="1.55" />
<line x1="196.4" y1="264.23" x2="196.4" y2="339.93" stroke-width="1.55" />
<line x1="202" y1="262.45" x2="202" y2="338.15" stroke-width="1.55" />
<line x1="207.4" y1="260.51" x2="207.4" y2="336.21" stroke-width="1.55" />
<line x1="212.8" y1="258.33" x2="212.8" y2="334.03" stroke-width="1.55" />
<line x1="218" y1="255.99" x2="218" y2="331.69" stroke-width="1.55" />
<line x1="223.1" y1="253.45" x2="223.1" y2="329.15" stroke-width="1.55" />
<line x1="227.8" y1="250.87" x2="227.8" y2="326.57" stroke-width="1.55" />
<line x1="232.5" y1="248.02" x2="232.5" y2="323.72" stroke-width="1.55" />
<line x1="237.2" y1="244.89" x2="237.2" y2="320.59" stroke-width="1.55" />
<line x1="241.4" y1="241.81" x2="241.4" y2="317.51" stroke-width="1.55" />
<line x1="245.6" y1="238.42" x2="245.6" y2="314.12" stroke-width="1.55" />
<line x1="249.8" y1="234.66" x2="249.8" y2="310.36" stroke-width="1.55" />
<line x1="253.8" y1="230.68" x2="253.8" y2="306.38" stroke-width="1.55" />
<line x1="257.8" y1="226.2" x2="257.8" y2="301.9" stroke-width="1.55" />
<line x1="261.5" y1="221.48" x2="261.5" y2="297.18" stroke-width="1.55" />
<line x1="264.8" y1="216.64" x2="264.8" y2="292.34" stroke-width="1.55" />
<line x1="268.3" y1="210.54" x2="268.3" y2="286.24" stroke-width="1.55" />
<line x1="271.4" y1="203.78" x2="271.4" y2="279.48" stroke-width="1.55" />
<line x1="274.2" y1="195.34" x2="274.2" y2="271.04" stroke-width="1.55" />
<line x1="177.4" y1="272" x2="177.4" y2="335" stroke-width="1.1" stroke-dasharray="9 3 4 3"/>
<line x1="171.5" y1="276" x2="171.5" y2="300" stroke-width="0.8" stroke-dasharray="3 6"/>
<line x1="28" y1="222" x2="28" y2="277" stroke-width="1.1" stroke-dasharray="2 1.6"/>
<line x1="30" y1="235" x2="30" y2="252" stroke-width="0.8" stroke-dasharray="1.5 2"/>
<line x1="25" y1="160" x2="37" y2="139" stroke-width="1.1" stroke-dasharray="2.5 2"/>
<line x1="263.5" y1="150" x2="267" y2="145" stroke-width="1.0" />
<line x1="264.5" y1="153" x2="268" y2="148.5" stroke-width="1.0" />
<path d="M123 172.5 L121.9 213 Q121.5 224 112 229 M172.3 172.5 L173.4 218 Q174 227 181 230" stroke-width="1.4" fill="none" />
<ellipse cx="147.6" cy="172.5" rx="24.6" ry="12.9" stroke-width="1.5" fill="#fff"/>
<ellipse cx="147.8" cy="171.8" rx="9.6" ry="4.6" stroke-width="1.3"/>
<ellipse cx="146.8" cy="172.4" rx="5" ry="2.6" stroke-width="1" fill="#777"/>
<line x1="156.5" y1="186.03" x2="156.5" y2="222" stroke-width="1.0" stroke-opacity="0.85"/>
<line x1="158.4" y1="185.59" x2="158.4" y2="222.6" stroke-width="1.0" stroke-opacity="0.85"/>
<line x1="160.3" y1="185.05" x2="160.3" y2="223.2" stroke-width="1.0" stroke-opacity="0.85"/>
<line x1="162.2" y1="184.38" x2="162.2" y2="223.8" stroke-width="1.0" stroke-opacity="0.85"/>
<line x1="164.1" y1="183.57" x2="164.1" y2="224.4" stroke-width="1.0" stroke-opacity="0.85"/>
<line x1="166" y1="182.56" x2="166" y2="225" stroke-width="1.0" stroke-opacity="0.85"/>
<line x1="167.9" y1="181.29" x2="167.9" y2="225.6" stroke-width="1.0" stroke-opacity="0.85"/>
<line x1="169.8" y1="179.56" x2="169.8" y2="226.2" stroke-width="1.0" stroke-opacity="0.85"/>
<line x1="171.5" y1="177.06" x2="171.5" y2="226.8" stroke-width="1.0" stroke-opacity="0.85"/>
<path d="M164.0 222 q0.5 5 3.0 6.0" stroke-width="0.8" fill="none" stroke-dasharray="1.5 1.5"/>
<path d="M165.9 222 q0.5 5 3.3 6.3" stroke-width="0.8" fill="none" stroke-dasharray="1.5 1.5"/>
<path d="M167.8 222 q0.5 5 3.6 6.6" stroke-width="0.8" fill="none" stroke-dasharray="1.5 1.5"/>
<path d="M169.7 222 q0.5 5 3.9 6.9" stroke-width="0.8" fill="none" stroke-dasharray="1.5 1.5"/>
<path d="M171.6 222 q0.5 5 4.2 7.2" stroke-width="0.8" fill="none" stroke-dasharray="1.5 1.5"/>
<line x1="128.5" y1="183" x2="128.2" y2="210" stroke-width="0.8" stroke-dasharray="1.5 2"/>
<line x1="126.5" y1="186" x2="126.3" y2="200" stroke-width="0.7" stroke-dasharray="1 2"/>
<line x1="68.75" y1="231.6" x2="88.76" y2="243.1" stroke-width="0.85" />
<line x1="71.85" y1="231.4" x2="90.38" y2="242.05" stroke-width="0.85" />
<line x1="74.95" y1="231.2" x2="92" y2="241" stroke-width="0.85" />
<line x1="78.05" y1="231" x2="93.61" y2="239.94" stroke-width="0.85" />
<line x1="81.15" y1="230.8" x2="95.23" y2="238.89" stroke-width="0.85" />
<line x1="84.25" y1="230.6" x2="96.85" y2="237.84" stroke-width="0.85" />
<line x1="87.35" y1="230.4" x2="98.47" y2="236.79" stroke-width="0.85" />
<line x1="90.45" y1="230.2" x2="100.08" y2="235.74" stroke-width="0.85" />
<line x1="93.55" y1="230" x2="101.7" y2="234.69" stroke-width="0.85" />
<line x1="96.65" y1="229.8" x2="103.32" y2="233.63" stroke-width="0.85" />
<line x1="99.75" y1="229.6" x2="104.94" y2="232.58" stroke-width="0.85" />
<line x1="102.85" y1="229.4" x2="106.56" y2="231.53" stroke-width="0.85" />
<line x1="105.95" y1="229.2" x2="108.17" y2="230.48" stroke-width="0.85" />
<line x1="189" y1="229.2" x2="185.8" y2="231.6" stroke-width="0.85" />
<line x1="192" y1="229.7" x2="187.44" y2="233.12" stroke-width="0.85" />
<line x1="195" y1="230.2" x2="189.08" y2="234.64" stroke-width="0.85" />
<line x1="198" y1="230.7" x2="190.72" y2="236.16" stroke-width="0.85" />
<line x1="201" y1="231.2" x2="192.36" y2="237.68" stroke-width="0.85" />
<line x1="204" y1="231.7" x2="194" y2="239.2" stroke-width="0.85" />
<line x1="207" y1="232.2" x2="195.64" y2="240.72" stroke-width="0.85" />
<line x1="210" y1="232.7" x2="197.28" y2="242.24" stroke-width="0.85" />
<line x1="213" y1="233.2" x2="198.92" y2="243.76" stroke-width="0.85" />
<line x1="216" y1="233.7" x2="200.56" y2="245.28" stroke-width="1.8" />
<line x1="219" y1="234.2" x2="202.2" y2="246.8" stroke-width="1.8" />
<line x1="222" y1="234.7" x2="203.84" y2="248.32" stroke-width="1.8" />
<text class="lb" x="243" y="104" font-size="17" text-anchor="start" >3</text>
<path d="M236.7 99.8 C228 101 231 118 220.3 123.3" stroke-width="1.0" fill="none" />
<text class="sf" x="65.5" y="368" font-size="18" text-anchor="start" >1</text>
<path d="M75 357 C86 352 84 336 91.4 327.7" stroke-width="1.0" fill="none" />
<path d="M514.2 227 L515.8 62 C515.8 44 528 34.7 542.5 34.7 C557 34.7 568 44 568 62 L568 84.4 L557.9 84.4" stroke-width="1.5" fill="none" />
<line x1="547.3" y1="133" x2="547.3" y2="227" stroke-width="1.4" />
<path d="M524 239.2 L525.8 66 C525.8 52 533 44 542 44 C551 44 558.1 52 558.1 66 L558.1 133.2 L546.3 133.2 L546.3 66 C546.3 58 544 54.9 541.3 54.9 C538.6 54.9 536.4 58 536.4 66 L535.2 254.3 L531 246 Z" stroke-width="0.8" fill="#0c0c0c" />
<line x1="516" y1="200" x2="515.6" y2="226.5" stroke-width="0.9" stroke-opacity="0.8"/>
<line x1="517.6" y1="175" x2="517.2" y2="226.5" stroke-width="0.9" stroke-opacity="0.8"/>
<line x1="519.2" y1="160" x2="518.8" y2="226.5" stroke-width="0.9" stroke-opacity="0.8"/>
<line x1="520.8" y1="150" x2="520.4" y2="226.5" stroke-width="0.9" stroke-opacity="0.8"/>
<line x1="522.4" y1="140" x2="522" y2="226.5" stroke-width="0.9" stroke-opacity="0.8"/>
<rect x="515" y="196" width="9" height="30.5" stroke-width="0.0" fill="#777" style="stroke:none" fill-opacity="0.45"/>
<line x1="537" y1="150" x2="537" y2="226.5" stroke-width="0.9" stroke-opacity="0.8"/>
<line x1="538.6" y1="138" x2="538.6" y2="226.5" stroke-width="0.9" stroke-opacity="0.8"/>
<line x1="540.2" y1="150" x2="540.2" y2="226.5" stroke-width="0.9" stroke-opacity="0.8"/>
<line x1="541.8" y1="160" x2="541.8" y2="226.5" stroke-width="0.9" stroke-opacity="0.8"/>
<line x1="543.4" y1="168" x2="543.4" y2="226.5" stroke-width="0.9" stroke-opacity="0.8"/>
<line x1="545" y1="178" x2="545" y2="226.5" stroke-width="0.9" stroke-opacity="0.8"/>
<line x1="546.2" y1="186" x2="546.2" y2="226.5" stroke-width="0.9" stroke-opacity="0.8"/>
<rect x="536" y="196" width="11" height="30.5" stroke-width="0.0" fill="#777" style="stroke:none" fill-opacity="0.45"/>
<line x1="540" y1="120" x2="540" y2="150" stroke-width="0.7" />
<line x1="541.6" y1="124" x2="541.6" y2="160" stroke-width="0.7" />
<path d="M514.2 227 q2 1.6 4.5 0 q2.5 -1.4 5.3 0.8 M535.3 227.5 q3 2 6 0 q3 -1.6 6 -0.5" stroke-width="1.3" fill="none" />
<path d="M514 216.5 C509.47 216.5 507.79 208.94 501.91 208.1 C495.19 207.59 493.51 217.34 497.71 219.86 C501.07 221.54 502.75 215.66 498.55 213.98 C493.51 212.3 486.8 217.34 486.8 223.21 C487.64 229.09 494.35 229.09 495.19 224.89 C495.53 221.54 490.99 221.54 488.47 224.89 C485.96 229.09 490.15 232.45 490.99 237.49 " stroke-width="1.3" fill="none" stroke-linejoin="round"/>
<path d="M547.26 212.3 C552.3 211.46 553.98 207.26 560.7 207.59 C567.41 208.1 568.25 215.66 564.05 218.18 C560.7 219.02 559.86 213.98 564.05 211.46 C569.09 209.27 574.97 212.3 574.97 216.5 C574.97 220.7 569.09 220.7 569.09 217.34 C569.43 213.98 575.81 211.96 579.17 214.82 C582.19 219.02 575.81 224.05 575.81 228.25 " stroke-width="1.3" fill="none" stroke-linejoin="round"/>
<line x1="541" y1="75" x2="540.6" y2="82" stroke-width="1.1" stroke-dasharray="1.5 1.5"/>
<line x1="523" y1="72" x2="522.6" y2="78" stroke-width="0.8" stroke-dasharray="1 1.2"/>
<path d="M1048.8 111 C1054 104 1066 100.3 1076 100.3 L1141.6 100.3 L1141.6 125.6 L1079 125.2 C1066 124.5 1054 118 1048.8 111 Z" stroke-width="1.3" fill="none" />
<path d="M1053 115.5 C1060 121 1070 122.3 1080 122.3 L1141.6 122.6" stroke-width="2.9" fill="none" />
<path d="M1056 114 C1063 118.5 1071 119.2 1080 119.2 L1141 119.4" stroke-width="0.9" fill="none" />
<path d="M1060 112.5 C1066 116 1073 116.6 1082 116.6 L1141 116.8" stroke-width="0.8" fill="none" />
<line x1="1141.6" y1="100" x2="1141.6" y2="126" stroke-width="1.8" />
<text class="lb" x="749.5" y="51" font-size="17" text-anchor="start" >30&#8243;</text>
<text class="lb" x="770" y="66.3" font-size="17" text-anchor="start" >33&#8243;</text>
<text class="lb" x="709.4" y="129.5" font-size="17" text-anchor="start" >31&#8243;</text>
<text class="lb" x="777.6" y="133.7" font-size="17" text-anchor="start" >32&#8243;</text>
<text class="lb" x="894" y="59.3" font-size="17" text-anchor="start" >30&#8242;</text>
<text class="lb" x="912.8" y="71.7" font-size="17" text-anchor="start" >33&#8242;</text>
<text class="lb" x="851.6" y="127.5" font-size="17" text-anchor="start" >31&#8242;</text>
<text class="lb" x="912.8" y="118" font-size="17" text-anchor="start" >32&#8242;</text>
<text class="lb" x="1031.9" y="55" font-size="17" text-anchor="start" >30</text>
<text class="lb" x="1050.5" y="71.7" font-size="17" text-anchor="start" >33</text>
<text class="lb" x="992.6" y="124.2" font-size="17" text-anchor="start" >31</text>
<text class="lb" x="1053.4" y="143.2" font-size="17" text-anchor="start" >32</text>
<text class="lb" x="741.3" y="241.2" font-size="17" text-anchor="start" >50&#8243;</text>
<text class="lb" x="881" y="241.2" font-size="17" text-anchor="start" >50&#8242;</text>
<text class="lb" x="1022.4" y="243.2" font-size="17" text-anchor="start" >50</text>
<text class="lb" x="798" y="264.7" font-size="17" text-anchor="start" >35&#8243;</text>
<text class="lb" x="941" y="264.7" font-size="17" text-anchor="start" >35&#8242;</text>
<text class="lb" x="1077.4" y="261.8" font-size="17" text-anchor="start" >35</text>
<text class="lb" x="665.8" y="349.8" font-size="17" text-anchor="start" >42&#8243;</text>
<text class="lb" x="749.6" y="349.8" font-size="17" text-anchor="start" >41&#8243;</text>
<text class="lb" x="795" y="397.9" font-size="17" text-anchor="start" >34&#8243;</text>
<text class="lb" x="808" y="356.5" font-size="17" text-anchor="start" >42&#8242;</text>
<text class="lb" x="894.3" y="351.3" font-size="17" text-anchor="start" >41&#8242;</text>
<text class="lb" x="937.2" y="401.5" font-size="17" text-anchor="start" >34&#8242;</text>
<text class="lb" x="945" y="339.4" font-size="17" text-anchor="start" >42</text>
<text class="lb" x="1042" y="344.6" font-size="17" text-anchor="start" >41</text>
<text class="lb" x="1076.8" y="408.2" font-size="17" text-anchor="start" >34</text>
<text class="lb" x="658" y="462" font-size="17" text-anchor="start" >43</text>
<text class="lb" x="665.8" y="484.2" font-size="17" text-anchor="start" >43&#8242;</text>
<text class="lb" x="660.7" y="512.6" font-size="17" text-anchor="start" >43&#8243;</text>
<text class="lb" x="703" y="476.4" font-size="17" text-anchor="start" >40&#8243;</text>
<text class="lb" x="840.6" y="482.6" font-size="17" text-anchor="start" >40&#8242;</text>
<text class="lb" x="996.7" y="470.2" font-size="17" text-anchor="start" >40</text>
<text class="lb" x="777" y="561.7" font-size="17" text-anchor="start" >36&#8243;</text>
<text class="lb" x="924.3" y="563.3" font-size="17" text-anchor="start" >36&#8242;</text>
<text class="lb" x="1065" y="564.3" font-size="17" text-anchor="start" >36</text>
<text class="lb" x="678.5" y="627.2" font-size="17" text-anchor="start" >70</text>
<text class="lb" x="1069" y="641.8" font-size="17" text-anchor="start" >60</text>
<text class="lb" x="391" y="264.9" font-size="17" text-anchor="start" >12</text>
<text class="lb" x="307.2" y="327" font-size="17" text-anchor="start" >11</text>
<text class="lb" x="529.4" y="325" font-size="17" text-anchor="start" >2</text>
<text class="lb" x="606" y="334.6" font-size="17" text-anchor="start" >82</text>
<text class="lb" x="488.6" y="379.3" font-size="17" text-anchor="start" >15</text>
<text class="lb" x="619" y="425.3" font-size="17" text-anchor="start" >81</text>
<text class="lb" x="398.6" y="447" font-size="17" text-anchor="start" >3</text>
<text class="lb" x="430" y="451.5" font-size="17" text-anchor="start" >4</text>
<text class="lb" x="365.5" y="474" font-size="17" text-anchor="start" >1</text>
<text class="lb" x="351.5" y="527.7" font-size="17" text-anchor="start" >10</text>
<text class="lb" x="419.5" y="533" font-size="17" text-anchor="start" >19</text>
<text class="lb" x="419.5" y="548" font-size="17" text-anchor="start" >18</text>
<text class="lb" x="396.8" y="562.5" font-size="17" text-anchor="start" >17</text>
<text class="lb" x="426.5" y="576.5" font-size="17" text-anchor="start" >8</text>
<text class="lb" x="447.4" y="581.7" font-size="17" text-anchor="start" >7</text>
<text class="lb" x="536.4" y="592.2" font-size="17" text-anchor="start" >6</text>
<text class="lb" x="508.5" y="597.4" font-size="17" text-anchor="start" >9</text>
<text class="lb" x="576.5" y="566.7" font-size="17" text-anchor="start" >5</text>
<text class="lb" x="620" y="574.7" font-size="17" text-anchor="start" >80</text>
<text class="lb" x="301.6" y="609.6" font-size="17" text-anchor="start" >16</text>
<text class="lb" x="353.2" y="376.5" font-size="19.5" text-anchor="start" >14</text>
<path d="M769 64 L755 66.5" stroke-width="1.0" fill="none" />
<path d="M732 124.5 q4 4 7 1 q2 -2 5 -1" stroke-width="1.0" fill="none" />
<path d="M776.5 130 L760 135" stroke-width="1.0" fill="none" />
<path d="M911 69 q-5 3 -10 -1 q-3 -2 -6 0" stroke-width="1.0" fill="none" />
<path d="M869 124 q3 4 7 0 q3 -3 8 -1" stroke-width="1.0" fill="none" />
<path d="M911 113.5 L898 116" stroke-width="1.0" fill="none" />
<path d="M1049 67.5 L1034 69.5" stroke-width="1.0" fill="none" />
<path d="M1011.5 119 L1025 114" stroke-width="1.0" fill="none" />
<path d="M1052 138.5 L1038 141" stroke-width="1.0" fill="none" />
<path d="M797 259.5 L788 259.5" stroke-width="1.0" fill="none" />
<path d="M939.5 259 L928 261.5" stroke-width="1.0" fill="none" />
<path d="M1076 257 L1071 257.5" stroke-width="1.0" fill="none" />
<path d="M690 341 C695 335 700 336 706 339" stroke-width="1.0" fill="none" />
<path d="M748.5 344.5 L737 347" stroke-width="1.0" fill="none" />
<path d="M794 393 L788 393" stroke-width="1.0" fill="none" />
<path d="M835 349 C840 350 843 354 848 356" stroke-width="1.0" fill="none" />
<path d="M893 346 L879 350" stroke-width="1.0" fill="none" />
<path d="M936 397 L930.5 397" stroke-width="1.0" fill="none" />
<path d="M971 333 C976 333 978 342 984 343 L990 342" stroke-width="1.0" fill="none" />
<path d="M1041 337 C1033 338 1030 341 1022 342" stroke-width="1.0" fill="none" />
<path d="M1075.5 404 L1071 403" stroke-width="1.0" fill="none" />
<path d="M656 455.5 L590 472" stroke-width="1.0" fill="none" />
<path d="M664 479 C630 478 610 480 594 486" stroke-width="1.0" fill="none" />
<path d="M659 506.5 L598 505" stroke-width="1.0" fill="none" />
<path d="M720 463 C722 452 718 440 721 429" stroke-width="1.0" fill="none" />
<path d="M856 469 C863 458 861 444 863 433" stroke-width="1.0" fill="none" />
<path d="M1008 457 C1012 448 1006 442 1009 433" stroke-width="1.0" fill="none" />
<path d="M775.5 556.5 L769 554.5" stroke-width="1.0" fill="none" />
<path d="M922.5 557.5 L913 560" stroke-width="1.0" fill="none" />
<path d="M1063.5 558 L1054 563" stroke-width="1.0" fill="none" />
<path d="M676 637 C676 630 677 628 680 625" stroke-width="1.0" fill="none" />
<path d="M1072 655 C1072.5 648 1074 647 1074.5 643" stroke-width="1.0" fill="none" />
<path d="M389 263 C386 266 384 270 382 273" stroke-width="1.0" fill="none" />
<path d="M306 321.5 L297.5 322.5" stroke-width="1.0" fill="none" />
<path d="M536 327 L537 336 M534.5 332.5 L537 336.5 L539.5 332.5" stroke-width="1.0" fill="none" />
<path d="M605 331 C596 330.5 593 333 590 337.5" stroke-width="1.0" fill="none" />
<path d="M497 381 C497.5 384 496 385.5 495 386.5" stroke-width="1.0" fill="none" />
<path d="M618 420.5 L604 424" stroke-width="1.0" fill="none" />
<path d="M353 371.5 C343 372 340 378 332 383" stroke-width="1.0" fill="none" />
<path d="M404 449 C404 452 404.5 455 405.5 457.5" stroke-width="1.0" fill="none" />
<path d="M445.5 449 C450 457 456 459.5 463 459.5" stroke-width="1.0" fill="none" />
<path d="M373 468.5 q4 -2 7 0 q3 2 7 1" stroke-width="1.0" fill="none" />
<path d="M348 506 C348 513 350 516 353 518" stroke-width="1.0" fill="none" />
<path d="M436.5 527 C452 523 462 530 467 537" stroke-width="1.0" fill="none" />
<path d="M435 543.5 L451.5 543.5" stroke-width="1.0" fill="none" />
<path d="M415.5 557.5 C428 562 438 555 444.5 555" stroke-width="1.0" fill="none" />
<path d="M437.5 571.5 L455 563.5" stroke-width="1.0" fill="none" />
<path d="M458 578 C461 573 464 570 468 567.5" stroke-width="1.0" fill="none" />
<path d="M533 585 C520 583 510 570 498 569.5" stroke-width="1.0" fill="none" />
<path d="M507 591.5 L497 588.5" stroke-width="1.0" fill="none" />
<path d="M631.5 561 C634 556 631 551 633 546" stroke-width="1.0" fill="none" />
<path d="M317 583 C319 590 318 596 314.5 599" stroke-width="1.0" fill="none" />
<text class="sf" x="0" y="0" font-size="34" font-style="italic" transform="translate(74 51.25) skewX(-14)" textLength="80" lengthAdjust="spacingAndGlyphs">F<tspan font-size="27.2">ig:</tspan>2</text>
<path d="M63.5 51.25 c5 -3 13 -3 21 0 M70 61.75 c7 -1 13 -6 17 -10 M75 28.65 c10 1 22 0 32 -2.5" stroke-width="1.3" fill="none" />
<path d="M98 61.25 c-5 -1 -4 6 1 5 c7 -1 12 -8 15 -14" stroke-width="1.3" fill="none" />
<text class="sf" x="0" y="0" font-size="34" font-style="italic" transform="translate(372 138) skewX(-14)" textLength="79" lengthAdjust="spacingAndGlyphs">F<tspan font-size="27.2">ig: </tspan>3</text>
<path d="M361.5 138 c5 -3 13 -3 21 0 M368 148.5 c7 -1 13 -6 17 -10 M373 115.4 c10 1 22 0 32 -2.5" stroke-width="1.3" fill="none" />
<path d="M396 148 c-5 -1 -4 6 1 5 c7 -1 12 -8 15 -14" stroke-width="1.3" fill="none" />
<text class="sf" x="0" y="0" font-size="38" font-style="italic" transform="translate(507.5 712.7) skewX(-14)" textLength="72" lengthAdjust="spacingAndGlyphs">F<tspan font-size="30.4">ig:</tspan>1</text>
<path d="M495.76 712.7 c5.59 -3.35 14.53 -3.35 23.47 0 M503.03 724.44 c7.82 -1.12 14.53 -6.71 19 -11.18 M508.62 687.44 c11.18 1.12 24.59 0 35.76 -2.79" stroke-width="1.3" fill="none" />
<path d="M534.32 723.88 c-5.59 -1.12 -4.47 6.71 1.12 5.59 c7.82 -1.12 13.41 -8.94 16.76 -15.65" stroke-width="1.3" fill="none" />
<text class="dj" x="1170.6" y="19.5" font-size="32.5" font-weight="bold" transform="rotate(90.25 1170.6 19.5)" textLength="156" lengthAdjust="spacingAndGlyphs" >1,376,890.</text>
<text class="lb" x="1253.6" y="85.2" font-size="21.5" font-weight="normal" transform="rotate(90.25 1253.6 85.2)" textLength="597" lengthAdjust="spacingAndGlyphs" style="stroke:#151515;stroke-width:0.45">A. L. LOOMIS, P. E. KLOPSTEG, P. G. AGNEW AND W. H. STANNARD.</text>
<text class="lb" x="1227.7" y="326.9" font-size="14.5" font-weight="normal" transform="rotate(90.25 1227.7 326.9)" textLength="112.4" lengthAdjust="spacingAndGlyphs" style="stroke:#151515;stroke-width:0.4">CHRONOGRAPH.</text>
<text class="lb" x="1205.2" y="266.8" font-size="12.3" font-weight="bold" transform="rotate(90.25 1205.2 266.8)" textLength="230.6" lengthAdjust="spacingAndGlyphs" >APPLICATION FILED NOV. 7, 1919.</text>
<text class="sf" x="1171.2" y="537" font-size="29" font-weight="bold" transform="rotate(90.25 1171.2 537)" textLength="215" lengthAdjust="spacingAndGlyphs" >Patented May 3, 1921.</text>
<text class="sf" x="120" y="633" font-size="25" font-style="italic" font-weight="normal" transform="rotate(90 120 633)" textLength="117" lengthAdjust="spacingAndGlyphs">Inventors</text>
<text class="sf" x="97.5" y="550.5" font-size="27" font-style="italic" font-weight="bold" transform="rotate(90 97.5 550.5)" textLength="202" lengthAdjust="spacingAndGlyphs">Alfred L Loomis</text>
<text class="sf" x="66" y="525" font-size="27" font-style="italic" font-weight="normal" transform="rotate(86.5 66 525)" textLength="214" lengthAdjust="spacingAndGlyphs">Paul E. Klopsteg</text>
<text class="sf" x="41" y="514" font-size="27" font-style="italic" font-weight="normal" transform="rotate(87 41 514)" textLength="240" lengthAdjust="spacingAndGlyphs">Winfield H Stannard.</text>
<text class="sf" x="14" y="519" font-size="24" font-style="italic" font-weight="normal" transform="rotate(90 14 519)" textLength="143" lengthAdjust="spacingAndGlyphs">Paul G Agnew</text>
<line x1="80" y1="712" x2="83.5" y2="741" stroke-width="1.1" />
<line x1="60" y1="722" x2="67" y2="751" stroke-width="1.1" />
</svg>
</body></html>
